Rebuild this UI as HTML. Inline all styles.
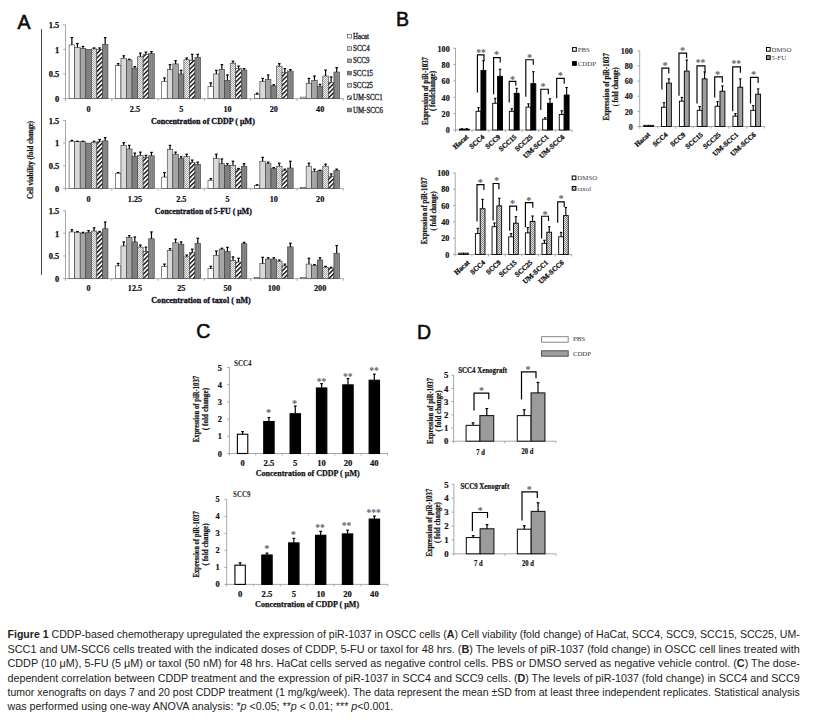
<!DOCTYPE html>
<html><head><meta charset="utf-8"><title>Figure 1</title>
<style>
html,body{margin:0;padding:0;background:#fff;}
body{width:823px;height:720px;position:relative;overflow:hidden;}
</style></head><body>
<svg width="823" height="720" viewBox="0 0 823 720" style="position:absolute;left:0;top:0">
<defs>
<pattern id="chk" patternUnits="userSpaceOnUse" width="2" height="2"><rect width="2" height="2" fill="#f2f2f2"/><rect width="1" height="1" fill="#a8a8a8"/><rect x="1" y="1" width="1" height="1" fill="#a8a8a8"/></pattern>
<pattern id="chk2" patternUnits="userSpaceOnUse" width="2" height="2"><rect width="2" height="2" fill="#e2e2e2"/><rect width="1" height="1" fill="#858585"/><rect x="1" y="1" width="1" height="1" fill="#858585"/></pattern>
<pattern id="diag" patternUnits="userSpaceOnUse" width="3.2" height="3.2" patternTransform="rotate(-45)"><rect width="3.2" height="3.2" fill="#fff"/><rect width="3.2" height="1.4" fill="#111"/></pattern>
<pattern id="vst" patternUnits="userSpaceOnUse" width="2.2" height="4"><rect width="2.2" height="4" fill="#777"/><rect x="1.2" width="0.8" height="4" fill="#9a9a9a"/></pattern>
</defs>
<rect width="823" height="720" fill="#fff"/>
<text x="24.05" y="28.8" font-size="19.5" text-anchor="middle" font-weight="normal" fill="#0a0a0a" font-family='"Liberation Sans", Arial, sans-serif' stroke="#0a0a0a" stroke-width="0.55">A</text>
<text x="402.55" y="26" font-size="19.5" text-anchor="middle" font-weight="normal" fill="#0a0a0a" font-family='"Liberation Sans", Arial, sans-serif' stroke="#0a0a0a" stroke-width="0.55">B</text>
<text x="203.4" y="338.4" font-size="19.5" text-anchor="middle" font-weight="normal" fill="#0a0a0a" font-family='"Liberation Sans", Arial, sans-serif' stroke="#0a0a0a" stroke-width="0.55">C</text>
<text x="424.05" y="339" font-size="19.5" text-anchor="middle" font-weight="normal" fill="#0a0a0a" font-family='"Liberation Sans", Arial, sans-serif' stroke="#0a0a0a" stroke-width="0.55">D</text>
<line x1="41.5" y1="29" x2="41.5" y2="275" stroke="#4a4a4a" stroke-width="1"/>
<text x="32.82" y="160" font-size="7.4" text-anchor="middle" font-weight="bold" fill="#111" font-family='"Liberation Serif", "Times New Roman", serif' textLength="78" lengthAdjust="spacingAndGlyphs" transform="rotate(-90 32.82 160)" stroke="#111" stroke-width="0.22">Cell viability (fold change)</text>
<line x1="65.5" y1="24.5" x2="65.5" y2="98.6" stroke="#a0a0a0" stroke-width="0.9"/>
<line x1="65.5" y1="98.6" x2="343.3" y2="98.6" stroke="#a0a0a0" stroke-width="0.9"/>
<line x1="63.1" y1="98.6" x2="65.5" y2="98.6" stroke="#a0a0a0" stroke-width="0.9"/>
<text x="59.3" y="101.9" font-size="8.4" text-anchor="end" font-weight="bold" fill="#0d0d1a" font-family='"Liberation Serif", "Times New Roman", serif' stroke="#0d0d1a" stroke-width="0.25">0</text>
<line x1="63.1" y1="74" x2="65.5" y2="74" stroke="#a0a0a0" stroke-width="0.9"/>
<text x="59.3" y="77.3" font-size="8.4" text-anchor="end" font-weight="bold" fill="#0d0d1a" font-family='"Liberation Serif", "Times New Roman", serif' stroke="#0d0d1a" stroke-width="0.25">0.5</text>
<line x1="63.1" y1="49.4" x2="65.5" y2="49.4" stroke="#a0a0a0" stroke-width="0.9"/>
<text x="59.3" y="52.7" font-size="8.4" text-anchor="end" font-weight="bold" fill="#0d0d1a" font-family='"Liberation Serif", "Times New Roman", serif' stroke="#0d0d1a" stroke-width="0.25">1</text>
<line x1="63.1" y1="24.8" x2="65.5" y2="24.8" stroke="#a0a0a0" stroke-width="0.9"/>
<text x="59.3" y="28.1" font-size="8.4" text-anchor="end" font-weight="bold" fill="#0d0d1a" font-family='"Liberation Serif", "Times New Roman", serif' stroke="#0d0d1a" stroke-width="0.25">1.5</text>
<line x1="65.5" y1="98.6" x2="65.5" y2="100.8" stroke="#a0a0a0" stroke-width="0.9"/>
<line x1="111.8" y1="98.6" x2="111.8" y2="100.8" stroke="#a0a0a0" stroke-width="0.9"/>
<line x1="158.1" y1="98.6" x2="158.1" y2="100.8" stroke="#a0a0a0" stroke-width="0.9"/>
<line x1="204.4" y1="98.6" x2="204.4" y2="100.8" stroke="#a0a0a0" stroke-width="0.9"/>
<line x1="250.7" y1="98.6" x2="250.7" y2="100.8" stroke="#a0a0a0" stroke-width="0.9"/>
<line x1="297" y1="98.6" x2="297" y2="100.8" stroke="#a0a0a0" stroke-width="0.9"/>
<line x1="343.3" y1="98.6" x2="343.3" y2="100.8" stroke="#a0a0a0" stroke-width="0.9"/>
<rect x="69.1" y="44.97" width="5.55" height="53.63" fill="#ffffff" stroke="#3a3a3a" stroke-width="0.6"/>
<line x1="71.88" y1="44.97" x2="71.88" y2="37.59" stroke="#000" stroke-width="1.2"/>
<line x1="70.58" y1="37.59" x2="73.17" y2="37.59" stroke="#000" stroke-width="1.2"/>
<rect x="74.65" y="47.43" width="5.55" height="51.17" fill="#d9d9d9" stroke="#3a3a3a" stroke-width="0.6"/>
<line x1="77.42" y1="47.43" x2="77.42" y2="43.5" stroke="#000" stroke-width="1.2"/>
<line x1="76.12" y1="43.5" x2="78.72" y2="43.5" stroke="#000" stroke-width="1.2"/>
<rect x="80.2" y="48.42" width="5.55" height="50.18" fill="#a6a6a6" stroke="#3a3a3a" stroke-width="0.6"/>
<line x1="82.97" y1="48.42" x2="82.97" y2="46.45" stroke="#000" stroke-width="1.2"/>
<line x1="81.67" y1="46.45" x2="84.27" y2="46.45" stroke="#000" stroke-width="1.2"/>
<rect x="85.75" y="49.4" width="5.55" height="49.2" fill="#7f7f7f" stroke="#3a3a3a" stroke-width="0.6"/>
<rect x="91.3" y="48.91" width="5.55" height="49.69" fill="url(#chk)" stroke="#3a3a3a" stroke-width="0.6"/>
<line x1="94.08" y1="48.91" x2="94.08" y2="47.92" stroke="#000" stroke-width="1.2"/>
<line x1="92.78" y1="47.92" x2="95.38" y2="47.92" stroke="#000" stroke-width="1.2"/>
<rect x="96.85" y="49.4" width="5.55" height="49.2" fill="url(#diag)" stroke="#3a3a3a" stroke-width="0.6"/>
<line x1="99.62" y1="49.4" x2="99.62" y2="47.92" stroke="#000" stroke-width="1.2"/>
<line x1="98.33" y1="47.92" x2="100.92" y2="47.92" stroke="#000" stroke-width="1.2"/>
<rect x="102.4" y="44.48" width="5.55" height="54.12" fill="url(#vst)" stroke="#3a3a3a" stroke-width="0.6"/>
<line x1="105.17" y1="44.48" x2="105.17" y2="37.59" stroke="#000" stroke-width="1.2"/>
<line x1="103.88" y1="37.59" x2="106.47" y2="37.59" stroke="#000" stroke-width="1.2"/>
<text x="88.65" y="112.4" font-size="8.2" text-anchor="middle" font-weight="bold" fill="#0d0d1a" font-family='"Liberation Serif", "Times New Roman", serif' stroke="#0d0d1a" stroke-width="0.2">0</text>
<rect x="115.4" y="65.64" width="5.55" height="32.96" fill="#ffffff" stroke="#3a3a3a" stroke-width="0.6"/>
<line x1="118.18" y1="65.64" x2="118.18" y2="63.67" stroke="#000" stroke-width="1.2"/>
<line x1="116.88" y1="63.67" x2="119.48" y2="63.67" stroke="#000" stroke-width="1.2"/>
<rect x="120.95" y="58.26" width="5.55" height="40.34" fill="#d9d9d9" stroke="#3a3a3a" stroke-width="0.6"/>
<line x1="123.73" y1="58.26" x2="123.73" y2="55.8" stroke="#000" stroke-width="1.2"/>
<line x1="122.43" y1="55.8" x2="125.03" y2="55.8" stroke="#000" stroke-width="1.2"/>
<rect x="126.5" y="59.98" width="5.55" height="38.62" fill="#a6a6a6" stroke="#3a3a3a" stroke-width="0.6"/>
<line x1="129.28" y1="59.98" x2="129.28" y2="59.24" stroke="#000" stroke-width="1.2"/>
<line x1="127.98" y1="59.24" x2="130.58" y2="59.24" stroke="#000" stroke-width="1.2"/>
<rect x="132.05" y="68.1" width="5.55" height="30.5" fill="#7f7f7f" stroke="#3a3a3a" stroke-width="0.6"/>
<line x1="134.83" y1="68.1" x2="134.83" y2="66.62" stroke="#000" stroke-width="1.2"/>
<line x1="133.53" y1="66.62" x2="136.13" y2="66.62" stroke="#000" stroke-width="1.2"/>
<rect x="137.6" y="56.78" width="5.55" height="41.82" fill="url(#chk)" stroke="#3a3a3a" stroke-width="0.6"/>
<line x1="140.38" y1="56.78" x2="140.38" y2="53.09" stroke="#000" stroke-width="1.2"/>
<line x1="139.07" y1="53.09" x2="141.68" y2="53.09" stroke="#000" stroke-width="1.2"/>
<rect x="143.15" y="54.32" width="5.55" height="44.28" fill="url(#diag)" stroke="#3a3a3a" stroke-width="0.6"/>
<line x1="145.93" y1="54.32" x2="145.93" y2="52.11" stroke="#000" stroke-width="1.2"/>
<line x1="144.62" y1="52.11" x2="147.23" y2="52.11" stroke="#000" stroke-width="1.2"/>
<rect x="148.7" y="53.58" width="5.55" height="45.02" fill="url(#vst)" stroke="#3a3a3a" stroke-width="0.6"/>
<line x1="151.47" y1="53.58" x2="151.47" y2="51.61" stroke="#000" stroke-width="1.2"/>
<line x1="150.17" y1="51.61" x2="152.78" y2="51.61" stroke="#000" stroke-width="1.2"/>
<text x="134.95" y="112.4" font-size="8.2" text-anchor="middle" font-weight="bold" fill="#0d0d1a" font-family='"Liberation Serif", "Times New Roman", serif' stroke="#0d0d1a" stroke-width="0.2">2.5</text>
<rect x="161.7" y="81.38" width="5.55" height="17.22" fill="#ffffff" stroke="#3a3a3a" stroke-width="0.6"/>
<line x1="164.48" y1="81.38" x2="164.48" y2="77.94" stroke="#000" stroke-width="1.2"/>
<line x1="163.18" y1="77.94" x2="165.78" y2="77.94" stroke="#000" stroke-width="1.2"/>
<rect x="167.25" y="69.57" width="5.55" height="29.03" fill="#d9d9d9" stroke="#3a3a3a" stroke-width="0.6"/>
<line x1="170.03" y1="69.57" x2="170.03" y2="64.65" stroke="#000" stroke-width="1.2"/>
<line x1="168.73" y1="64.65" x2="171.33" y2="64.65" stroke="#000" stroke-width="1.2"/>
<rect x="172.8" y="63.91" width="5.55" height="34.69" fill="#a6a6a6" stroke="#3a3a3a" stroke-width="0.6"/>
<line x1="175.58" y1="63.91" x2="175.58" y2="60.72" stroke="#000" stroke-width="1.2"/>
<line x1="174.28" y1="60.72" x2="176.88" y2="60.72" stroke="#000" stroke-width="1.2"/>
<rect x="178.35" y="74" width="5.55" height="24.6" fill="#7f7f7f" stroke="#3a3a3a" stroke-width="0.6"/>
<line x1="181.13" y1="74" x2="181.13" y2="70.31" stroke="#000" stroke-width="1.2"/>
<line x1="179.83" y1="70.31" x2="182.43" y2="70.31" stroke="#000" stroke-width="1.2"/>
<rect x="183.9" y="59.73" width="5.55" height="38.87" fill="url(#chk)" stroke="#3a3a3a" stroke-width="0.6"/>
<line x1="186.68" y1="59.73" x2="186.68" y2="58.01" stroke="#000" stroke-width="1.2"/>
<line x1="185.38" y1="58.01" x2="187.98" y2="58.01" stroke="#000" stroke-width="1.2"/>
<rect x="189.45" y="60.22" width="5.55" height="38.38" fill="url(#diag)" stroke="#3a3a3a" stroke-width="0.6"/>
<line x1="192.23" y1="60.22" x2="192.23" y2="54.32" stroke="#000" stroke-width="1.2"/>
<line x1="190.93" y1="54.32" x2="193.53" y2="54.32" stroke="#000" stroke-width="1.2"/>
<rect x="195" y="57.27" width="5.55" height="41.33" fill="url(#vst)" stroke="#3a3a3a" stroke-width="0.6"/>
<line x1="197.78" y1="57.27" x2="197.78" y2="54.32" stroke="#000" stroke-width="1.2"/>
<line x1="196.47" y1="54.32" x2="199.08" y2="54.32" stroke="#000" stroke-width="1.2"/>
<text x="181.25" y="112.4" font-size="8.2" text-anchor="middle" font-weight="bold" fill="#0d0d1a" font-family='"Liberation Serif", "Times New Roman", serif' stroke="#0d0d1a" stroke-width="0.2">5</text>
<rect x="208" y="86.3" width="5.55" height="12.3" fill="#ffffff" stroke="#3a3a3a" stroke-width="0.6"/>
<line x1="210.78" y1="86.3" x2="210.78" y2="82.86" stroke="#000" stroke-width="1.2"/>
<line x1="209.47" y1="82.86" x2="212.08" y2="82.86" stroke="#000" stroke-width="1.2"/>
<rect x="213.55" y="74" width="5.55" height="24.6" fill="#d9d9d9" stroke="#3a3a3a" stroke-width="0.6"/>
<line x1="216.33" y1="74" x2="216.33" y2="70.31" stroke="#000" stroke-width="1.2"/>
<line x1="215.03" y1="70.31" x2="217.63" y2="70.31" stroke="#000" stroke-width="1.2"/>
<rect x="219.1" y="69.57" width="5.55" height="29.03" fill="#a6a6a6" stroke="#3a3a3a" stroke-width="0.6"/>
<line x1="221.88" y1="69.57" x2="221.88" y2="64.65" stroke="#000" stroke-width="1.2"/>
<line x1="220.57" y1="64.65" x2="223.18" y2="64.65" stroke="#000" stroke-width="1.2"/>
<rect x="224.65" y="80.4" width="5.55" height="18.2" fill="#7f7f7f" stroke="#3a3a3a" stroke-width="0.6"/>
<line x1="227.43" y1="80.4" x2="227.43" y2="74.98" stroke="#000" stroke-width="1.2"/>
<line x1="226.12" y1="74.98" x2="228.73" y2="74.98" stroke="#000" stroke-width="1.2"/>
<rect x="230.2" y="63.18" width="5.55" height="35.42" fill="url(#chk)" stroke="#3a3a3a" stroke-width="0.6"/>
<line x1="232.97" y1="63.18" x2="232.97" y2="61.21" stroke="#000" stroke-width="1.2"/>
<line x1="231.67" y1="61.21" x2="234.28" y2="61.21" stroke="#000" stroke-width="1.2"/>
<rect x="235.75" y="68.59" width="5.55" height="30.01" fill="url(#diag)" stroke="#3a3a3a" stroke-width="0.6"/>
<line x1="238.53" y1="68.59" x2="238.53" y2="66.13" stroke="#000" stroke-width="1.2"/>
<line x1="237.22" y1="66.13" x2="239.83" y2="66.13" stroke="#000" stroke-width="1.2"/>
<rect x="241.3" y="70.06" width="5.55" height="28.54" fill="url(#vst)" stroke="#3a3a3a" stroke-width="0.6"/>
<line x1="244.08" y1="70.06" x2="244.08" y2="68.59" stroke="#000" stroke-width="1.2"/>
<line x1="242.78" y1="68.59" x2="245.38" y2="68.59" stroke="#000" stroke-width="1.2"/>
<text x="227.55" y="112.4" font-size="8.2" text-anchor="middle" font-weight="bold" fill="#0d0d1a" font-family='"Liberation Serif", "Times New Roman", serif' stroke="#0d0d1a" stroke-width="0.2">10</text>
<rect x="254.3" y="94.66" width="5.55" height="3.94" fill="#ffffff" stroke="#3a3a3a" stroke-width="0.6"/>
<line x1="257.07" y1="94.66" x2="257.07" y2="93.19" stroke="#000" stroke-width="1.2"/>
<line x1="255.77" y1="93.19" x2="258.38" y2="93.19" stroke="#000" stroke-width="1.2"/>
<rect x="259.85" y="81.38" width="5.55" height="17.22" fill="#d9d9d9" stroke="#3a3a3a" stroke-width="0.6"/>
<line x1="262.62" y1="81.38" x2="262.62" y2="78.43" stroke="#000" stroke-width="1.2"/>
<line x1="261.32" y1="78.43" x2="263.93" y2="78.43" stroke="#000" stroke-width="1.2"/>
<rect x="265.4" y="79.41" width="5.55" height="19.19" fill="#a6a6a6" stroke="#3a3a3a" stroke-width="0.6"/>
<line x1="268.18" y1="79.41" x2="268.18" y2="74.98" stroke="#000" stroke-width="1.2"/>
<line x1="266.88" y1="74.98" x2="269.48" y2="74.98" stroke="#000" stroke-width="1.2"/>
<rect x="270.95" y="85.81" width="5.55" height="12.79" fill="#7f7f7f" stroke="#3a3a3a" stroke-width="0.6"/>
<line x1="273.72" y1="85.81" x2="273.72" y2="84.82" stroke="#000" stroke-width="1.2"/>
<line x1="272.42" y1="84.82" x2="275.02" y2="84.82" stroke="#000" stroke-width="1.2"/>
<rect x="276.5" y="66.13" width="5.55" height="32.47" fill="url(#chk)" stroke="#3a3a3a" stroke-width="0.6"/>
<line x1="279.27" y1="66.13" x2="279.27" y2="63.67" stroke="#000" stroke-width="1.2"/>
<line x1="277.97" y1="63.67" x2="280.57" y2="63.67" stroke="#000" stroke-width="1.2"/>
<rect x="282.05" y="72.52" width="5.55" height="26.08" fill="url(#diag)" stroke="#3a3a3a" stroke-width="0.6"/>
<line x1="284.82" y1="72.52" x2="284.82" y2="68.59" stroke="#000" stroke-width="1.2"/>
<line x1="283.52" y1="68.59" x2="286.12" y2="68.59" stroke="#000" stroke-width="1.2"/>
<rect x="287.6" y="71.05" width="5.55" height="27.55" fill="url(#vst)" stroke="#3a3a3a" stroke-width="0.6"/>
<line x1="290.38" y1="71.05" x2="290.38" y2="69.57" stroke="#000" stroke-width="1.2"/>
<line x1="289.07" y1="69.57" x2="291.68" y2="69.57" stroke="#000" stroke-width="1.2"/>
<text x="273.85" y="112.4" font-size="8.2" text-anchor="middle" font-weight="bold" fill="#0d0d1a" font-family='"Liberation Serif", "Times New Roman", serif' stroke="#0d0d1a" stroke-width="0.2">20</text>
<rect x="300.6" y="97.12" width="5.55" height="1.48" fill="#ffffff" stroke="#3a3a3a" stroke-width="0.6"/>
<rect x="306.15" y="83.35" width="5.55" height="15.25" fill="#d9d9d9" stroke="#3a3a3a" stroke-width="0.6"/>
<line x1="308.93" y1="83.35" x2="308.93" y2="78.43" stroke="#000" stroke-width="1.2"/>
<line x1="307.62" y1="78.43" x2="310.23" y2="78.43" stroke="#000" stroke-width="1.2"/>
<rect x="311.7" y="80.4" width="5.55" height="18.2" fill="#a6a6a6" stroke="#3a3a3a" stroke-width="0.6"/>
<line x1="314.48" y1="80.4" x2="314.48" y2="75.97" stroke="#000" stroke-width="1.2"/>
<line x1="313.18" y1="75.97" x2="315.78" y2="75.97" stroke="#000" stroke-width="1.2"/>
<rect x="317.25" y="86.3" width="5.55" height="12.3" fill="#7f7f7f" stroke="#3a3a3a" stroke-width="0.6"/>
<line x1="320.02" y1="86.3" x2="320.02" y2="84.33" stroke="#000" stroke-width="1.2"/>
<line x1="318.72" y1="84.33" x2="321.32" y2="84.33" stroke="#000" stroke-width="1.2"/>
<rect x="322.8" y="75.97" width="5.55" height="22.63" fill="url(#chk)" stroke="#3a3a3a" stroke-width="0.6"/>
<line x1="325.57" y1="75.97" x2="325.57" y2="70.06" stroke="#000" stroke-width="1.2"/>
<line x1="324.27" y1="70.06" x2="326.88" y2="70.06" stroke="#000" stroke-width="1.2"/>
<rect x="328.35" y="82.36" width="5.55" height="16.24" fill="url(#diag)" stroke="#3a3a3a" stroke-width="0.6"/>
<line x1="331.12" y1="82.36" x2="331.12" y2="76.95" stroke="#000" stroke-width="1.2"/>
<line x1="329.82" y1="76.95" x2="332.43" y2="76.95" stroke="#000" stroke-width="1.2"/>
<rect x="333.9" y="72.03" width="5.55" height="26.57" fill="url(#vst)" stroke="#3a3a3a" stroke-width="0.6"/>
<line x1="336.68" y1="72.03" x2="336.68" y2="67.6" stroke="#000" stroke-width="1.2"/>
<line x1="335.38" y1="67.6" x2="337.98" y2="67.6" stroke="#000" stroke-width="1.2"/>
<text x="320.15" y="112.4" font-size="8.2" text-anchor="middle" font-weight="bold" fill="#0d0d1a" font-family='"Liberation Serif", "Times New Roman", serif' stroke="#0d0d1a" stroke-width="0.2">40</text>
<text x="202.9" y="124.4" font-size="8.4" text-anchor="middle" font-weight="bold" fill="#0d0d1a" font-family='"Liberation Serif", "Times New Roman", serif' textLength="104" lengthAdjust="spacingAndGlyphs" stroke="#0d0d1a" stroke-width="0.3">Concentration of CDDP ( μM)</text>
<line x1="65.5" y1="120.15" x2="65.5" y2="188.4" stroke="#a0a0a0" stroke-width="0.9"/>
<line x1="65.5" y1="188.4" x2="343.3" y2="188.4" stroke="#a0a0a0" stroke-width="0.9"/>
<line x1="63.1" y1="188.4" x2="65.5" y2="188.4" stroke="#a0a0a0" stroke-width="0.9"/>
<text x="59.3" y="191.7" font-size="8.4" text-anchor="end" font-weight="bold" fill="#0d0d1a" font-family='"Liberation Serif", "Times New Roman", serif' stroke="#0d0d1a" stroke-width="0.25">0</text>
<line x1="63.1" y1="165.75" x2="65.5" y2="165.75" stroke="#a0a0a0" stroke-width="0.9"/>
<text x="59.3" y="169.05" font-size="8.4" text-anchor="end" font-weight="bold" fill="#0d0d1a" font-family='"Liberation Serif", "Times New Roman", serif' stroke="#0d0d1a" stroke-width="0.25">0.5</text>
<line x1="63.1" y1="143.1" x2="65.5" y2="143.1" stroke="#a0a0a0" stroke-width="0.9"/>
<text x="59.3" y="146.4" font-size="8.4" text-anchor="end" font-weight="bold" fill="#0d0d1a" font-family='"Liberation Serif", "Times New Roman", serif' stroke="#0d0d1a" stroke-width="0.25">1</text>
<line x1="63.1" y1="120.45" x2="65.5" y2="120.45" stroke="#a0a0a0" stroke-width="0.9"/>
<text x="59.3" y="123.75" font-size="8.4" text-anchor="end" font-weight="bold" fill="#0d0d1a" font-family='"Liberation Serif", "Times New Roman", serif' stroke="#0d0d1a" stroke-width="0.25">1.5</text>
<line x1="65.5" y1="188.4" x2="65.5" y2="190.6" stroke="#a0a0a0" stroke-width="0.9"/>
<line x1="111.8" y1="188.4" x2="111.8" y2="190.6" stroke="#a0a0a0" stroke-width="0.9"/>
<line x1="158.1" y1="188.4" x2="158.1" y2="190.6" stroke="#a0a0a0" stroke-width="0.9"/>
<line x1="204.4" y1="188.4" x2="204.4" y2="190.6" stroke="#a0a0a0" stroke-width="0.9"/>
<line x1="250.7" y1="188.4" x2="250.7" y2="190.6" stroke="#a0a0a0" stroke-width="0.9"/>
<line x1="297" y1="188.4" x2="297" y2="190.6" stroke="#a0a0a0" stroke-width="0.9"/>
<line x1="343.3" y1="188.4" x2="343.3" y2="190.6" stroke="#a0a0a0" stroke-width="0.9"/>
<rect x="69.1" y="141.29" width="5.55" height="47.11" fill="#ffffff" stroke="#3a3a3a" stroke-width="0.6"/>
<line x1="71.88" y1="141.29" x2="71.88" y2="140.38" stroke="#000" stroke-width="1.2"/>
<line x1="70.58" y1="140.38" x2="73.17" y2="140.38" stroke="#000" stroke-width="1.2"/>
<rect x="74.65" y="141.74" width="5.55" height="46.66" fill="#d9d9d9" stroke="#3a3a3a" stroke-width="0.6"/>
<line x1="77.42" y1="141.74" x2="77.42" y2="141.29" stroke="#000" stroke-width="1.2"/>
<line x1="76.12" y1="141.29" x2="78.72" y2="141.29" stroke="#000" stroke-width="1.2"/>
<rect x="80.2" y="141.74" width="5.55" height="46.66" fill="#a6a6a6" stroke="#3a3a3a" stroke-width="0.6"/>
<line x1="82.97" y1="141.74" x2="82.97" y2="141.29" stroke="#000" stroke-width="1.2"/>
<line x1="81.67" y1="141.29" x2="84.27" y2="141.29" stroke="#000" stroke-width="1.2"/>
<rect x="85.75" y="143.1" width="5.55" height="45.3" fill="#7f7f7f" stroke="#3a3a3a" stroke-width="0.6"/>
<rect x="91.3" y="142.19" width="5.55" height="46.21" fill="url(#chk)" stroke="#3a3a3a" stroke-width="0.6"/>
<line x1="94.08" y1="142.19" x2="94.08" y2="141.29" stroke="#000" stroke-width="1.2"/>
<line x1="92.78" y1="141.29" x2="95.38" y2="141.29" stroke="#000" stroke-width="1.2"/>
<rect x="96.85" y="141.74" width="5.55" height="46.66" fill="url(#diag)" stroke="#3a3a3a" stroke-width="0.6"/>
<line x1="99.62" y1="141.74" x2="99.62" y2="139.48" stroke="#000" stroke-width="1.2"/>
<line x1="98.33" y1="139.48" x2="100.92" y2="139.48" stroke="#000" stroke-width="1.2"/>
<rect x="102.4" y="140.84" width="5.55" height="47.56" fill="url(#vst)" stroke="#3a3a3a" stroke-width="0.6"/>
<line x1="105.17" y1="140.84" x2="105.17" y2="137.66" stroke="#000" stroke-width="1.2"/>
<line x1="103.88" y1="137.66" x2="106.47" y2="137.66" stroke="#000" stroke-width="1.2"/>
<text x="88.65" y="201.5" font-size="8.2" text-anchor="middle" font-weight="bold" fill="#0d0d1a" font-family='"Liberation Serif", "Times New Roman", serif' stroke="#0d0d1a" stroke-width="0.2">0</text>
<rect x="115.4" y="173.22" width="5.55" height="15.18" fill="#ffffff" stroke="#3a3a3a" stroke-width="0.6"/>
<line x1="118.18" y1="173.22" x2="118.18" y2="172.55" stroke="#000" stroke-width="1.2"/>
<line x1="116.88" y1="172.55" x2="119.48" y2="172.55" stroke="#000" stroke-width="1.2"/>
<rect x="120.95" y="145.37" width="5.55" height="43.03" fill="#d9d9d9" stroke="#3a3a3a" stroke-width="0.6"/>
<line x1="123.73" y1="145.37" x2="123.73" y2="142.65" stroke="#000" stroke-width="1.2"/>
<line x1="122.43" y1="142.65" x2="125.03" y2="142.65" stroke="#000" stroke-width="1.2"/>
<rect x="126.5" y="148.99" width="5.55" height="39.41" fill="#a6a6a6" stroke="#3a3a3a" stroke-width="0.6"/>
<line x1="129.28" y1="148.99" x2="129.28" y2="145.37" stroke="#000" stroke-width="1.2"/>
<line x1="127.98" y1="145.37" x2="130.58" y2="145.37" stroke="#000" stroke-width="1.2"/>
<rect x="132.05" y="156.24" width="5.55" height="32.16" fill="#7f7f7f" stroke="#3a3a3a" stroke-width="0.6"/>
<line x1="134.83" y1="156.24" x2="134.83" y2="153.07" stroke="#000" stroke-width="1.2"/>
<line x1="133.53" y1="153.07" x2="136.13" y2="153.07" stroke="#000" stroke-width="1.2"/>
<rect x="137.6" y="155.33" width="5.55" height="33.07" fill="url(#chk)" stroke="#3a3a3a" stroke-width="0.6"/>
<line x1="140.38" y1="155.33" x2="140.38" y2="152.16" stroke="#000" stroke-width="1.2"/>
<line x1="139.07" y1="152.16" x2="141.68" y2="152.16" stroke="#000" stroke-width="1.2"/>
<rect x="143.15" y="157.6" width="5.55" height="30.8" fill="url(#diag)" stroke="#3a3a3a" stroke-width="0.6"/>
<line x1="145.93" y1="157.6" x2="145.93" y2="155.33" stroke="#000" stroke-width="1.2"/>
<line x1="144.62" y1="155.33" x2="147.23" y2="155.33" stroke="#000" stroke-width="1.2"/>
<rect x="148.7" y="155.78" width="5.55" height="32.62" fill="url(#vst)" stroke="#3a3a3a" stroke-width="0.6"/>
<line x1="151.47" y1="155.78" x2="151.47" y2="152.39" stroke="#000" stroke-width="1.2"/>
<line x1="150.17" y1="152.39" x2="152.78" y2="152.39" stroke="#000" stroke-width="1.2"/>
<text x="134.95" y="201.5" font-size="8.2" text-anchor="middle" font-weight="bold" fill="#0d0d1a" font-family='"Liberation Serif", "Times New Roman", serif' stroke="#0d0d1a" stroke-width="0.2">1.25</text>
<rect x="161.7" y="177.08" width="5.55" height="11.32" fill="#ffffff" stroke="#3a3a3a" stroke-width="0.6"/>
<line x1="164.48" y1="177.08" x2="164.48" y2="172.55" stroke="#000" stroke-width="1.2"/>
<line x1="163.18" y1="172.55" x2="165.78" y2="172.55" stroke="#000" stroke-width="1.2"/>
<rect x="167.25" y="149.44" width="5.55" height="38.96" fill="#d9d9d9" stroke="#3a3a3a" stroke-width="0.6"/>
<line x1="170.03" y1="149.44" x2="170.03" y2="145.37" stroke="#000" stroke-width="1.2"/>
<line x1="168.73" y1="145.37" x2="171.33" y2="145.37" stroke="#000" stroke-width="1.2"/>
<rect x="172.8" y="154.2" width="5.55" height="34.2" fill="#a6a6a6" stroke="#3a3a3a" stroke-width="0.6"/>
<line x1="175.58" y1="154.2" x2="175.58" y2="152.16" stroke="#000" stroke-width="1.2"/>
<line x1="174.28" y1="152.16" x2="176.88" y2="152.16" stroke="#000" stroke-width="1.2"/>
<rect x="178.35" y="158.5" width="5.55" height="29.9" fill="#7f7f7f" stroke="#3a3a3a" stroke-width="0.6"/>
<line x1="181.13" y1="158.5" x2="181.13" y2="156.69" stroke="#000" stroke-width="1.2"/>
<line x1="179.83" y1="156.69" x2="182.43" y2="156.69" stroke="#000" stroke-width="1.2"/>
<rect x="183.9" y="156.69" width="5.55" height="31.71" fill="url(#chk)" stroke="#3a3a3a" stroke-width="0.6"/>
<line x1="186.68" y1="156.69" x2="186.68" y2="154.2" stroke="#000" stroke-width="1.2"/>
<line x1="185.38" y1="154.2" x2="187.98" y2="154.2" stroke="#000" stroke-width="1.2"/>
<rect x="189.45" y="162.58" width="5.55" height="25.82" fill="url(#diag)" stroke="#3a3a3a" stroke-width="0.6"/>
<line x1="192.23" y1="162.58" x2="192.23" y2="160.09" stroke="#000" stroke-width="1.2"/>
<line x1="190.93" y1="160.09" x2="193.53" y2="160.09" stroke="#000" stroke-width="1.2"/>
<rect x="195" y="164.39" width="5.55" height="24.01" fill="url(#vst)" stroke="#3a3a3a" stroke-width="0.6"/>
<line x1="197.78" y1="164.39" x2="197.78" y2="162.13" stroke="#000" stroke-width="1.2"/>
<line x1="196.47" y1="162.13" x2="199.08" y2="162.13" stroke="#000" stroke-width="1.2"/>
<text x="181.25" y="201.5" font-size="8.2" text-anchor="middle" font-weight="bold" fill="#0d0d1a" font-family='"Liberation Serif", "Times New Roman", serif' stroke="#0d0d1a" stroke-width="0.2">2.5</text>
<rect x="208" y="180.25" width="5.55" height="8.15" fill="#ffffff" stroke="#3a3a3a" stroke-width="0.6"/>
<line x1="210.78" y1="180.25" x2="210.78" y2="178.66" stroke="#000" stroke-width="1.2"/>
<line x1="209.47" y1="178.66" x2="212.08" y2="178.66" stroke="#000" stroke-width="1.2"/>
<rect x="213.55" y="158.28" width="5.55" height="30.12" fill="#d9d9d9" stroke="#3a3a3a" stroke-width="0.6"/>
<line x1="216.33" y1="158.28" x2="216.33" y2="154.2" stroke="#000" stroke-width="1.2"/>
<line x1="215.03" y1="154.2" x2="217.63" y2="154.2" stroke="#000" stroke-width="1.2"/>
<rect x="219.1" y="163.71" width="5.55" height="24.69" fill="#a6a6a6" stroke="#3a3a3a" stroke-width="0.6"/>
<line x1="221.88" y1="163.71" x2="221.88" y2="158.96" stroke="#000" stroke-width="1.2"/>
<line x1="220.57" y1="158.96" x2="223.18" y2="158.96" stroke="#000" stroke-width="1.2"/>
<rect x="224.65" y="165.3" width="5.55" height="23.1" fill="#7f7f7f" stroke="#3a3a3a" stroke-width="0.6"/>
<line x1="227.43" y1="165.3" x2="227.43" y2="163.71" stroke="#000" stroke-width="1.2"/>
<line x1="226.12" y1="163.71" x2="228.73" y2="163.71" stroke="#000" stroke-width="1.2"/>
<rect x="230.2" y="165.3" width="5.55" height="23.1" fill="url(#chk)" stroke="#3a3a3a" stroke-width="0.6"/>
<line x1="232.97" y1="165.3" x2="232.97" y2="161.22" stroke="#000" stroke-width="1.2"/>
<line x1="231.67" y1="161.22" x2="234.28" y2="161.22" stroke="#000" stroke-width="1.2"/>
<rect x="235.75" y="169.6" width="5.55" height="18.8" fill="url(#diag)" stroke="#3a3a3a" stroke-width="0.6"/>
<line x1="238.53" y1="169.6" x2="238.53" y2="168.47" stroke="#000" stroke-width="1.2"/>
<line x1="237.22" y1="168.47" x2="239.83" y2="168.47" stroke="#000" stroke-width="1.2"/>
<rect x="241.3" y="166.2" width="5.55" height="22.2" fill="url(#vst)" stroke="#3a3a3a" stroke-width="0.6"/>
<line x1="244.08" y1="166.2" x2="244.08" y2="163.71" stroke="#000" stroke-width="1.2"/>
<line x1="242.78" y1="163.71" x2="245.38" y2="163.71" stroke="#000" stroke-width="1.2"/>
<text x="227.55" y="201.5" font-size="8.2" text-anchor="middle" font-weight="bold" fill="#0d0d1a" font-family='"Liberation Serif", "Times New Roman", serif' stroke="#0d0d1a" stroke-width="0.2">5</text>
<rect x="254.3" y="185.68" width="5.55" height="2.72" fill="#ffffff" stroke="#3a3a3a" stroke-width="0.6"/>
<line x1="257.07" y1="185.68" x2="257.07" y2="184.78" stroke="#000" stroke-width="1.2"/>
<line x1="255.77" y1="184.78" x2="258.38" y2="184.78" stroke="#000" stroke-width="1.2"/>
<rect x="259.85" y="161.22" width="5.55" height="27.18" fill="#d9d9d9" stroke="#3a3a3a" stroke-width="0.6"/>
<line x1="262.62" y1="161.22" x2="262.62" y2="157.37" stroke="#000" stroke-width="1.2"/>
<line x1="261.32" y1="157.37" x2="263.93" y2="157.37" stroke="#000" stroke-width="1.2"/>
<rect x="265.4" y="163.71" width="5.55" height="24.69" fill="#a6a6a6" stroke="#3a3a3a" stroke-width="0.6"/>
<line x1="268.18" y1="163.71" x2="268.18" y2="162.13" stroke="#000" stroke-width="1.2"/>
<line x1="266.88" y1="162.13" x2="269.48" y2="162.13" stroke="#000" stroke-width="1.2"/>
<rect x="270.95" y="168.47" width="5.55" height="19.93" fill="#7f7f7f" stroke="#3a3a3a" stroke-width="0.6"/>
<line x1="273.72" y1="168.47" x2="273.72" y2="167.56" stroke="#000" stroke-width="1.2"/>
<line x1="272.42" y1="167.56" x2="275.02" y2="167.56" stroke="#000" stroke-width="1.2"/>
<rect x="276.5" y="166.2" width="5.55" height="22.2" fill="url(#chk)" stroke="#3a3a3a" stroke-width="0.6"/>
<line x1="279.27" y1="166.2" x2="279.27" y2="163.21" stroke="#000" stroke-width="1.2"/>
<line x1="277.97" y1="163.21" x2="280.57" y2="163.21" stroke="#000" stroke-width="1.2"/>
<rect x="282.05" y="170.73" width="5.55" height="17.67" fill="url(#diag)" stroke="#3a3a3a" stroke-width="0.6"/>
<line x1="284.82" y1="170.73" x2="284.82" y2="169.15" stroke="#000" stroke-width="1.2"/>
<line x1="283.52" y1="169.15" x2="286.12" y2="169.15" stroke="#000" stroke-width="1.2"/>
<rect x="287.6" y="168.02" width="5.55" height="20.38" fill="url(#vst)" stroke="#3a3a3a" stroke-width="0.6"/>
<line x1="290.38" y1="168.02" x2="290.38" y2="161.22" stroke="#000" stroke-width="1.2"/>
<line x1="289.07" y1="161.22" x2="291.68" y2="161.22" stroke="#000" stroke-width="1.2"/>
<text x="273.85" y="201.5" font-size="8.2" text-anchor="middle" font-weight="bold" fill="#0d0d1a" font-family='"Liberation Serif", "Times New Roman", serif' stroke="#0d0d1a" stroke-width="0.2">10</text>
<rect x="300.6" y="187.49" width="5.55" height="0.91" fill="#ffffff" stroke="#3a3a3a" stroke-width="0.6"/>
<rect x="306.15" y="166.2" width="5.55" height="22.2" fill="#d9d9d9" stroke="#3a3a3a" stroke-width="0.6"/>
<line x1="308.93" y1="166.2" x2="308.93" y2="163.21" stroke="#000" stroke-width="1.2"/>
<line x1="307.62" y1="163.21" x2="310.23" y2="163.21" stroke="#000" stroke-width="1.2"/>
<rect x="311.7" y="171.64" width="5.55" height="16.76" fill="#a6a6a6" stroke="#3a3a3a" stroke-width="0.6"/>
<line x1="314.48" y1="171.64" x2="314.48" y2="169.15" stroke="#000" stroke-width="1.2"/>
<line x1="313.18" y1="169.15" x2="315.78" y2="169.15" stroke="#000" stroke-width="1.2"/>
<rect x="317.25" y="170.73" width="5.55" height="17.67" fill="#7f7f7f" stroke="#3a3a3a" stroke-width="0.6"/>
<line x1="320.02" y1="170.73" x2="320.02" y2="170.28" stroke="#000" stroke-width="1.2"/>
<line x1="318.72" y1="170.28" x2="321.32" y2="170.28" stroke="#000" stroke-width="1.2"/>
<rect x="322.8" y="166.2" width="5.55" height="22.2" fill="url(#chk)" stroke="#3a3a3a" stroke-width="0.6"/>
<line x1="325.57" y1="166.2" x2="325.57" y2="164.16" stroke="#000" stroke-width="1.2"/>
<line x1="324.27" y1="164.16" x2="326.88" y2="164.16" stroke="#000" stroke-width="1.2"/>
<rect x="328.35" y="176.17" width="5.55" height="12.23" fill="url(#diag)" stroke="#3a3a3a" stroke-width="0.6"/>
<line x1="331.12" y1="176.17" x2="331.12" y2="173.9" stroke="#000" stroke-width="1.2"/>
<line x1="329.82" y1="173.9" x2="332.43" y2="173.9" stroke="#000" stroke-width="1.2"/>
<rect x="333.9" y="170.28" width="5.55" height="18.12" fill="url(#vst)" stroke="#3a3a3a" stroke-width="0.6"/>
<line x1="336.68" y1="170.28" x2="336.68" y2="169.15" stroke="#000" stroke-width="1.2"/>
<line x1="335.38" y1="169.15" x2="337.98" y2="169.15" stroke="#000" stroke-width="1.2"/>
<text x="320.15" y="201.5" font-size="8.2" text-anchor="middle" font-weight="bold" fill="#0d0d1a" font-family='"Liberation Serif", "Times New Roman", serif' stroke="#0d0d1a" stroke-width="0.2">20</text>
<text x="203.3" y="213.5" font-size="8.4" text-anchor="middle" font-weight="bold" fill="#0d0d1a" font-family='"Liberation Serif", "Times New Roman", serif' textLength="97" lengthAdjust="spacingAndGlyphs" stroke="#0d0d1a" stroke-width="0.3">Concentration of 5-FU ( μM)</text>
<line x1="65.5" y1="210.35" x2="65.5" y2="278.6" stroke="#a0a0a0" stroke-width="0.9"/>
<line x1="65.5" y1="278.6" x2="343.3" y2="278.6" stroke="#a0a0a0" stroke-width="0.9"/>
<line x1="63.1" y1="278.6" x2="65.5" y2="278.6" stroke="#a0a0a0" stroke-width="0.9"/>
<text x="59.3" y="281.9" font-size="8.4" text-anchor="end" font-weight="bold" fill="#0d0d1a" font-family='"Liberation Serif", "Times New Roman", serif' stroke="#0d0d1a" stroke-width="0.25">0</text>
<line x1="63.1" y1="255.95" x2="65.5" y2="255.95" stroke="#a0a0a0" stroke-width="0.9"/>
<text x="59.3" y="259.25" font-size="8.4" text-anchor="end" font-weight="bold" fill="#0d0d1a" font-family='"Liberation Serif", "Times New Roman", serif' stroke="#0d0d1a" stroke-width="0.25">0.5</text>
<line x1="63.1" y1="233.3" x2="65.5" y2="233.3" stroke="#a0a0a0" stroke-width="0.9"/>
<text x="59.3" y="236.6" font-size="8.4" text-anchor="end" font-weight="bold" fill="#0d0d1a" font-family='"Liberation Serif", "Times New Roman", serif' stroke="#0d0d1a" stroke-width="0.25">1</text>
<line x1="63.1" y1="210.65" x2="65.5" y2="210.65" stroke="#a0a0a0" stroke-width="0.9"/>
<text x="59.3" y="213.95" font-size="8.4" text-anchor="end" font-weight="bold" fill="#0d0d1a" font-family='"Liberation Serif", "Times New Roman", serif' stroke="#0d0d1a" stroke-width="0.25">1.5</text>
<line x1="65.5" y1="278.6" x2="65.5" y2="280.8" stroke="#a0a0a0" stroke-width="0.9"/>
<line x1="111.8" y1="278.6" x2="111.8" y2="280.8" stroke="#a0a0a0" stroke-width="0.9"/>
<line x1="158.1" y1="278.6" x2="158.1" y2="280.8" stroke="#a0a0a0" stroke-width="0.9"/>
<line x1="204.4" y1="278.6" x2="204.4" y2="280.8" stroke="#a0a0a0" stroke-width="0.9"/>
<line x1="250.7" y1="278.6" x2="250.7" y2="280.8" stroke="#a0a0a0" stroke-width="0.9"/>
<line x1="297" y1="278.6" x2="297" y2="280.8" stroke="#a0a0a0" stroke-width="0.9"/>
<line x1="343.3" y1="278.6" x2="343.3" y2="280.8" stroke="#a0a0a0" stroke-width="0.9"/>
<rect x="69.1" y="231.94" width="5.55" height="46.66" fill="#ffffff" stroke="#3a3a3a" stroke-width="0.6"/>
<line x1="71.88" y1="231.94" x2="71.88" y2="229.68" stroke="#000" stroke-width="1.2"/>
<line x1="70.58" y1="229.68" x2="73.17" y2="229.68" stroke="#000" stroke-width="1.2"/>
<rect x="74.65" y="232.39" width="5.55" height="46.21" fill="#d9d9d9" stroke="#3a3a3a" stroke-width="0.6"/>
<line x1="77.42" y1="232.39" x2="77.42" y2="231.49" stroke="#000" stroke-width="1.2"/>
<line x1="76.12" y1="231.49" x2="78.72" y2="231.49" stroke="#000" stroke-width="1.2"/>
<rect x="80.2" y="233.3" width="5.55" height="45.3" fill="#a6a6a6" stroke="#3a3a3a" stroke-width="0.6"/>
<line x1="82.97" y1="233.3" x2="82.97" y2="232.39" stroke="#000" stroke-width="1.2"/>
<line x1="81.67" y1="232.39" x2="84.27" y2="232.39" stroke="#000" stroke-width="1.2"/>
<rect x="85.75" y="232.39" width="5.55" height="46.21" fill="#7f7f7f" stroke="#3a3a3a" stroke-width="0.6"/>
<line x1="88.53" y1="232.39" x2="88.53" y2="230.58" stroke="#000" stroke-width="1.2"/>
<line x1="87.23" y1="230.58" x2="89.83" y2="230.58" stroke="#000" stroke-width="1.2"/>
<rect x="91.3" y="231.04" width="5.55" height="47.56" fill="url(#chk)" stroke="#3a3a3a" stroke-width="0.6"/>
<line x1="94.08" y1="231.04" x2="94.08" y2="227.86" stroke="#000" stroke-width="1.2"/>
<line x1="92.78" y1="227.86" x2="95.38" y2="227.86" stroke="#000" stroke-width="1.2"/>
<rect x="96.85" y="232.39" width="5.55" height="46.21" fill="url(#diag)" stroke="#3a3a3a" stroke-width="0.6"/>
<line x1="99.62" y1="232.39" x2="99.62" y2="231.49" stroke="#000" stroke-width="1.2"/>
<line x1="98.33" y1="231.49" x2="100.92" y2="231.49" stroke="#000" stroke-width="1.2"/>
<rect x="102.4" y="228.77" width="5.55" height="49.83" fill="url(#vst)" stroke="#3a3a3a" stroke-width="0.6"/>
<line x1="105.17" y1="228.77" x2="105.17" y2="221.98" stroke="#000" stroke-width="1.2"/>
<line x1="103.88" y1="221.98" x2="106.47" y2="221.98" stroke="#000" stroke-width="1.2"/>
<text x="88.65" y="291.3" font-size="8.2" text-anchor="middle" font-weight="bold" fill="#0d0d1a" font-family='"Liberation Serif", "Times New Roman", serif' stroke="#0d0d1a" stroke-width="0.2">0</text>
<rect x="115.4" y="265.92" width="5.55" height="12.68" fill="#ffffff" stroke="#3a3a3a" stroke-width="0.6"/>
<line x1="118.18" y1="265.92" x2="118.18" y2="263.42" stroke="#000" stroke-width="1.2"/>
<line x1="116.88" y1="263.42" x2="119.48" y2="263.42" stroke="#000" stroke-width="1.2"/>
<rect x="120.95" y="245.98" width="5.55" height="32.62" fill="#d9d9d9" stroke="#3a3a3a" stroke-width="0.6"/>
<line x1="123.73" y1="245.98" x2="123.73" y2="241.91" stroke="#000" stroke-width="1.2"/>
<line x1="122.43" y1="241.91" x2="125.03" y2="241.91" stroke="#000" stroke-width="1.2"/>
<rect x="126.5" y="237.38" width="5.55" height="41.22" fill="#a6a6a6" stroke="#3a3a3a" stroke-width="0.6"/>
<line x1="129.28" y1="237.38" x2="129.28" y2="235.57" stroke="#000" stroke-width="1.2"/>
<line x1="127.98" y1="235.57" x2="130.58" y2="235.57" stroke="#000" stroke-width="1.2"/>
<rect x="132.05" y="241.91" width="5.55" height="36.69" fill="#7f7f7f" stroke="#3a3a3a" stroke-width="0.6"/>
<line x1="134.83" y1="241.91" x2="134.83" y2="236.92" stroke="#000" stroke-width="1.2"/>
<line x1="133.53" y1="236.92" x2="136.13" y2="236.92" stroke="#000" stroke-width="1.2"/>
<rect x="137.6" y="247.12" width="5.55" height="31.48" fill="url(#chk)" stroke="#3a3a3a" stroke-width="0.6"/>
<line x1="140.38" y1="247.12" x2="140.38" y2="245.08" stroke="#000" stroke-width="1.2"/>
<line x1="139.07" y1="245.08" x2="141.68" y2="245.08" stroke="#000" stroke-width="1.2"/>
<rect x="143.15" y="251.42" width="5.55" height="27.18" fill="url(#diag)" stroke="#3a3a3a" stroke-width="0.6"/>
<line x1="145.93" y1="251.42" x2="145.93" y2="247.12" stroke="#000" stroke-width="1.2"/>
<line x1="144.62" y1="247.12" x2="147.23" y2="247.12" stroke="#000" stroke-width="1.2"/>
<rect x="148.7" y="238.74" width="5.55" height="39.86" fill="url(#vst)" stroke="#3a3a3a" stroke-width="0.6"/>
<line x1="151.47" y1="238.74" x2="151.47" y2="231.94" stroke="#000" stroke-width="1.2"/>
<line x1="150.17" y1="231.94" x2="152.78" y2="231.94" stroke="#000" stroke-width="1.2"/>
<text x="134.95" y="291.3" font-size="8.2" text-anchor="middle" font-weight="bold" fill="#0d0d1a" font-family='"Liberation Serif", "Times New Roman", serif' stroke="#0d0d1a" stroke-width="0.2">12.5</text>
<rect x="161.7" y="266.37" width="5.55" height="12.23" fill="#ffffff" stroke="#3a3a3a" stroke-width="0.6"/>
<line x1="164.48" y1="266.37" x2="164.48" y2="264.1" stroke="#000" stroke-width="1.2"/>
<line x1="163.18" y1="264.1" x2="165.78" y2="264.1" stroke="#000" stroke-width="1.2"/>
<rect x="167.25" y="250.51" width="5.55" height="28.09" fill="#d9d9d9" stroke="#3a3a3a" stroke-width="0.6"/>
<line x1="170.03" y1="250.51" x2="170.03" y2="248.7" stroke="#000" stroke-width="1.2"/>
<line x1="168.73" y1="248.7" x2="171.33" y2="248.7" stroke="#000" stroke-width="1.2"/>
<rect x="172.8" y="242.81" width="5.55" height="35.79" fill="#a6a6a6" stroke="#3a3a3a" stroke-width="0.6"/>
<line x1="175.58" y1="242.81" x2="175.58" y2="239.19" stroke="#000" stroke-width="1.2"/>
<line x1="174.28" y1="239.19" x2="176.88" y2="239.19" stroke="#000" stroke-width="1.2"/>
<rect x="178.35" y="244.17" width="5.55" height="34.43" fill="#7f7f7f" stroke="#3a3a3a" stroke-width="0.6"/>
<line x1="181.13" y1="244.17" x2="181.13" y2="241.91" stroke="#000" stroke-width="1.2"/>
<line x1="179.83" y1="241.91" x2="182.43" y2="241.91" stroke="#000" stroke-width="1.2"/>
<rect x="183.9" y="256.86" width="5.55" height="21.74" fill="url(#chk)" stroke="#3a3a3a" stroke-width="0.6"/>
<line x1="186.68" y1="256.86" x2="186.68" y2="255.04" stroke="#000" stroke-width="1.2"/>
<line x1="185.38" y1="255.04" x2="187.98" y2="255.04" stroke="#000" stroke-width="1.2"/>
<rect x="189.45" y="252.33" width="5.55" height="26.27" fill="url(#diag)" stroke="#3a3a3a" stroke-width="0.6"/>
<line x1="192.23" y1="252.33" x2="192.23" y2="249.16" stroke="#000" stroke-width="1.2"/>
<line x1="190.93" y1="249.16" x2="193.53" y2="249.16" stroke="#000" stroke-width="1.2"/>
<rect x="195" y="243.27" width="5.55" height="35.33" fill="url(#vst)" stroke="#3a3a3a" stroke-width="0.6"/>
<line x1="197.78" y1="243.27" x2="197.78" y2="238.28" stroke="#000" stroke-width="1.2"/>
<line x1="196.47" y1="238.28" x2="199.08" y2="238.28" stroke="#000" stroke-width="1.2"/>
<text x="181.25" y="291.3" font-size="8.2" text-anchor="middle" font-weight="bold" fill="#0d0d1a" font-family='"Liberation Serif", "Times New Roman", serif' stroke="#0d0d1a" stroke-width="0.2">25</text>
<rect x="208" y="268.63" width="5.55" height="9.97" fill="#ffffff" stroke="#3a3a3a" stroke-width="0.6"/>
<line x1="210.78" y1="268.63" x2="210.78" y2="266.37" stroke="#000" stroke-width="1.2"/>
<line x1="209.47" y1="266.37" x2="212.08" y2="266.37" stroke="#000" stroke-width="1.2"/>
<rect x="213.55" y="255.27" width="5.55" height="23.33" fill="#d9d9d9" stroke="#3a3a3a" stroke-width="0.6"/>
<line x1="216.33" y1="255.27" x2="216.33" y2="250.97" stroke="#000" stroke-width="1.2"/>
<line x1="215.03" y1="250.97" x2="217.63" y2="250.97" stroke="#000" stroke-width="1.2"/>
<rect x="219.1" y="249.16" width="5.55" height="29.45" fill="#a6a6a6" stroke="#3a3a3a" stroke-width="0.6"/>
<line x1="221.88" y1="249.16" x2="221.88" y2="248.25" stroke="#000" stroke-width="1.2"/>
<line x1="220.57" y1="248.25" x2="223.18" y2="248.25" stroke="#000" stroke-width="1.2"/>
<rect x="224.65" y="251.42" width="5.55" height="27.18" fill="#7f7f7f" stroke="#3a3a3a" stroke-width="0.6"/>
<line x1="227.43" y1="251.42" x2="227.43" y2="247.34" stroke="#000" stroke-width="1.2"/>
<line x1="226.12" y1="247.34" x2="228.73" y2="247.34" stroke="#000" stroke-width="1.2"/>
<rect x="230.2" y="260.48" width="5.55" height="18.12" fill="url(#chk)" stroke="#3a3a3a" stroke-width="0.6"/>
<line x1="232.97" y1="260.48" x2="232.97" y2="256.86" stroke="#000" stroke-width="1.2"/>
<line x1="231.67" y1="256.86" x2="234.28" y2="256.86" stroke="#000" stroke-width="1.2"/>
<rect x="235.75" y="262.07" width="5.55" height="16.53" fill="url(#diag)" stroke="#3a3a3a" stroke-width="0.6"/>
<line x1="238.53" y1="262.07" x2="238.53" y2="258.22" stroke="#000" stroke-width="1.2"/>
<line x1="237.22" y1="258.22" x2="239.83" y2="258.22" stroke="#000" stroke-width="1.2"/>
<rect x="241.3" y="243.72" width="5.55" height="34.88" fill="url(#vst)" stroke="#3a3a3a" stroke-width="0.6"/>
<line x1="244.08" y1="243.72" x2="244.08" y2="242.36" stroke="#000" stroke-width="1.2"/>
<line x1="242.78" y1="242.36" x2="245.38" y2="242.36" stroke="#000" stroke-width="1.2"/>
<text x="227.55" y="291.3" font-size="8.2" text-anchor="middle" font-weight="bold" fill="#0d0d1a" font-family='"Liberation Serif", "Times New Roman", serif' stroke="#0d0d1a" stroke-width="0.2">50</text>
<rect x="254.3" y="277.69" width="5.55" height="0.91" fill="#ffffff" stroke="#3a3a3a" stroke-width="0.6"/>
<rect x="259.85" y="263.65" width="5.55" height="14.95" fill="#d9d9d9" stroke="#3a3a3a" stroke-width="0.6"/>
<line x1="262.62" y1="263.65" x2="262.62" y2="257.31" stroke="#000" stroke-width="1.2"/>
<line x1="261.32" y1="257.31" x2="263.93" y2="257.31" stroke="#000" stroke-width="1.2"/>
<rect x="265.4" y="259.12" width="5.55" height="19.48" fill="#a6a6a6" stroke="#3a3a3a" stroke-width="0.6"/>
<line x1="268.18" y1="259.12" x2="268.18" y2="257.76" stroke="#000" stroke-width="1.2"/>
<line x1="266.88" y1="257.76" x2="269.48" y2="257.76" stroke="#000" stroke-width="1.2"/>
<rect x="270.95" y="259.12" width="5.55" height="19.48" fill="#7f7f7f" stroke="#3a3a3a" stroke-width="0.6"/>
<line x1="273.72" y1="259.12" x2="273.72" y2="257.76" stroke="#000" stroke-width="1.2"/>
<line x1="272.42" y1="257.76" x2="275.02" y2="257.76" stroke="#000" stroke-width="1.2"/>
<rect x="276.5" y="261.16" width="5.55" height="17.44" fill="url(#chk)" stroke="#3a3a3a" stroke-width="0.6"/>
<line x1="279.27" y1="261.16" x2="279.27" y2="260.03" stroke="#000" stroke-width="1.2"/>
<line x1="277.97" y1="260.03" x2="280.57" y2="260.03" stroke="#000" stroke-width="1.2"/>
<rect x="282.05" y="265.92" width="5.55" height="12.68" fill="url(#diag)" stroke="#3a3a3a" stroke-width="0.6"/>
<line x1="284.82" y1="265.92" x2="284.82" y2="264.1" stroke="#000" stroke-width="1.2"/>
<line x1="283.52" y1="264.1" x2="286.12" y2="264.1" stroke="#000" stroke-width="1.2"/>
<rect x="287.6" y="246.89" width="5.55" height="31.71" fill="url(#vst)" stroke="#3a3a3a" stroke-width="0.6"/>
<line x1="290.38" y1="246.89" x2="290.38" y2="243.27" stroke="#000" stroke-width="1.2"/>
<line x1="289.07" y1="243.27" x2="291.68" y2="243.27" stroke="#000" stroke-width="1.2"/>
<text x="273.85" y="291.3" font-size="8.2" text-anchor="middle" font-weight="bold" fill="#0d0d1a" font-family='"Liberation Serif", "Times New Roman", serif' stroke="#0d0d1a" stroke-width="0.2">100</text>
<rect x="300.6" y="277.69" width="5.55" height="0.91" fill="#ffffff" stroke="#3a3a3a" stroke-width="0.6"/>
<rect x="306.15" y="264.1" width="5.55" height="14.5" fill="#d9d9d9" stroke="#3a3a3a" stroke-width="0.6"/>
<line x1="308.93" y1="264.1" x2="308.93" y2="258.22" stroke="#000" stroke-width="1.2"/>
<line x1="307.62" y1="258.22" x2="310.23" y2="258.22" stroke="#000" stroke-width="1.2"/>
<rect x="311.7" y="265.46" width="5.55" height="13.14" fill="#a6a6a6" stroke="#3a3a3a" stroke-width="0.6"/>
<line x1="314.48" y1="265.46" x2="314.48" y2="264.56" stroke="#000" stroke-width="1.2"/>
<line x1="313.18" y1="264.56" x2="315.78" y2="264.56" stroke="#000" stroke-width="1.2"/>
<rect x="317.25" y="260.03" width="5.55" height="18.57" fill="#7f7f7f" stroke="#3a3a3a" stroke-width="0.6"/>
<line x1="320.02" y1="260.03" x2="320.02" y2="257.76" stroke="#000" stroke-width="1.2"/>
<line x1="318.72" y1="257.76" x2="321.32" y2="257.76" stroke="#000" stroke-width="1.2"/>
<rect x="322.8" y="267.28" width="5.55" height="11.32" fill="url(#chk)" stroke="#3a3a3a" stroke-width="0.6"/>
<line x1="325.57" y1="267.28" x2="325.57" y2="266.37" stroke="#000" stroke-width="1.2"/>
<line x1="324.27" y1="266.37" x2="326.88" y2="266.37" stroke="#000" stroke-width="1.2"/>
<rect x="328.35" y="268.18" width="5.55" height="10.42" fill="url(#diag)" stroke="#3a3a3a" stroke-width="0.6"/>
<line x1="331.12" y1="268.18" x2="331.12" y2="267.28" stroke="#000" stroke-width="1.2"/>
<line x1="329.82" y1="267.28" x2="332.43" y2="267.28" stroke="#000" stroke-width="1.2"/>
<rect x="333.9" y="253.23" width="5.55" height="25.37" fill="url(#vst)" stroke="#3a3a3a" stroke-width="0.6"/>
<line x1="336.68" y1="253.23" x2="336.68" y2="245.53" stroke="#000" stroke-width="1.2"/>
<line x1="335.38" y1="245.53" x2="337.98" y2="245.53" stroke="#000" stroke-width="1.2"/>
<text x="320.15" y="291.3" font-size="8.2" text-anchor="middle" font-weight="bold" fill="#0d0d1a" font-family='"Liberation Serif", "Times New Roman", serif' stroke="#0d0d1a" stroke-width="0.2">200</text>
<text x="201" y="303.1" font-size="8.4" text-anchor="middle" font-weight="bold" fill="#0d0d1a" font-family='"Liberation Serif", "Times New Roman", serif' textLength="99.5" lengthAdjust="spacingAndGlyphs" stroke="#0d0d1a" stroke-width="0.3">Concentration of taxol ( nM)</text>
<rect x="347.6" y="34.4" width="3.8" height="3.6" fill="#ffffff" stroke="#555" stroke-width="0.7"/>
<text x="353" y="38.8" font-size="7.4" text-anchor="start" font-weight="normal" fill="#1a1a2a" font-family='"Liberation Serif", "Times New Roman", serif' textLength="16" lengthAdjust="spacingAndGlyphs" stroke="#1a1a2a" stroke-width="0.3">Hacat</text>
<rect x="347.6" y="46.7" width="3.8" height="3.6" fill="#d9d9d9" stroke="#555" stroke-width="0.7"/>
<text x="353" y="51.1" font-size="7.4" text-anchor="start" font-weight="normal" fill="#1a1a2a" font-family='"Liberation Serif", "Times New Roman", serif' textLength="16.7" lengthAdjust="spacingAndGlyphs" stroke="#1a1a2a" stroke-width="0.3">SCC4</text>
<rect x="347.6" y="59" width="3.8" height="3.6" fill="#a6a6a6" stroke="#555" stroke-width="0.7"/>
<text x="353" y="63.4" font-size="7.4" text-anchor="start" font-weight="normal" fill="#1a1a2a" font-family='"Liberation Serif", "Times New Roman", serif' textLength="16.3" lengthAdjust="spacingAndGlyphs" stroke="#1a1a2a" stroke-width="0.3">SCC9</text>
<rect x="347.6" y="71.3" width="3.8" height="3.6" fill="#7f7f7f" stroke="#555" stroke-width="0.7"/>
<text x="353" y="75.7" font-size="7.4" text-anchor="start" font-weight="normal" fill="#1a1a2a" font-family='"Liberation Serif", "Times New Roman", serif' textLength="20.1" lengthAdjust="spacingAndGlyphs" stroke="#1a1a2a" stroke-width="0.3">SCC15</text>
<rect x="347.6" y="83.6" width="3.8" height="3.6" fill="url(#chk)" stroke="#555" stroke-width="0.7"/>
<text x="353" y="88" font-size="7.4" text-anchor="start" font-weight="normal" fill="#1a1a2a" font-family='"Liberation Serif", "Times New Roman", serif' textLength="20.1" lengthAdjust="spacingAndGlyphs" stroke="#1a1a2a" stroke-width="0.3">SCC25</text>
<rect x="347.6" y="95.9" width="3.8" height="3.6" fill="url(#diag)" stroke="#555" stroke-width="0.7"/>
<text x="353" y="100.3" font-size="7.4" text-anchor="start" font-weight="normal" fill="#1a1a2a" font-family='"Liberation Serif", "Times New Roman", serif' textLength="29.6" lengthAdjust="spacingAndGlyphs" stroke="#1a1a2a" stroke-width="0.3">UM-SCC1</text>
<rect x="347.6" y="108.2" width="3.8" height="3.6" fill="url(#vst)" stroke="#555" stroke-width="0.7"/>
<text x="353" y="112.6" font-size="7.4" text-anchor="start" font-weight="normal" fill="#1a1a2a" font-family='"Liberation Serif", "Times New Roman", serif' textLength="29.9" lengthAdjust="spacingAndGlyphs" stroke="#1a1a2a" stroke-width="0.3">UM-SCC6</text>
<line x1="455.5" y1="48" x2="455.5" y2="130" stroke="#a0a0a0" stroke-width="0.9"/>
<line x1="455.5" y1="130" x2="572" y2="130" stroke="#a0a0a0" stroke-width="0.9"/>
<line x1="453.2" y1="130" x2="455.5" y2="130" stroke="#a0a0a0" stroke-width="0.9"/>
<text x="449.7" y="133.2" font-size="8.6" text-anchor="end" font-weight="bold" fill="#111" font-family='"Liberation Serif", "Times New Roman", serif' textLength="4.05" lengthAdjust="spacingAndGlyphs" stroke="#111" stroke-width="0.2">0</text>
<line x1="453.2" y1="113.66" x2="455.5" y2="113.66" stroke="#a0a0a0" stroke-width="0.9"/>
<text x="449.7" y="116.86" font-size="8.6" text-anchor="end" font-weight="bold" fill="#111" font-family='"Liberation Serif", "Times New Roman", serif' textLength="8.1" lengthAdjust="spacingAndGlyphs" stroke="#111" stroke-width="0.2">20</text>
<line x1="453.2" y1="97.32" x2="455.5" y2="97.32" stroke="#a0a0a0" stroke-width="0.9"/>
<text x="449.7" y="100.52" font-size="8.6" text-anchor="end" font-weight="bold" fill="#111" font-family='"Liberation Serif", "Times New Roman", serif' textLength="8.1" lengthAdjust="spacingAndGlyphs" stroke="#111" stroke-width="0.2">40</text>
<line x1="453.2" y1="80.98" x2="455.5" y2="80.98" stroke="#a0a0a0" stroke-width="0.9"/>
<text x="449.7" y="84.18" font-size="8.6" text-anchor="end" font-weight="bold" fill="#111" font-family='"Liberation Serif", "Times New Roman", serif' textLength="8.1" lengthAdjust="spacingAndGlyphs" stroke="#111" stroke-width="0.2">60</text>
<line x1="453.2" y1="64.64" x2="455.5" y2="64.64" stroke="#a0a0a0" stroke-width="0.9"/>
<text x="449.7" y="67.84" font-size="8.6" text-anchor="end" font-weight="bold" fill="#111" font-family='"Liberation Serif", "Times New Roman", serif' textLength="8.1" lengthAdjust="spacingAndGlyphs" stroke="#111" stroke-width="0.2">80</text>
<line x1="453.2" y1="48.3" x2="455.5" y2="48.3" stroke="#a0a0a0" stroke-width="0.9"/>
<text x="449.7" y="51.5" font-size="8.6" text-anchor="end" font-weight="bold" fill="#111" font-family='"Liberation Serif", "Times New Roman", serif' textLength="12.15" lengthAdjust="spacingAndGlyphs" stroke="#111" stroke-width="0.2">100</text>
<line x1="455.5" y1="130" x2="455.5" y2="132" stroke="#a0a0a0" stroke-width="0.9"/>
<line x1="472.14" y1="130" x2="472.14" y2="132" stroke="#a0a0a0" stroke-width="0.9"/>
<line x1="488.79" y1="130" x2="488.79" y2="132" stroke="#a0a0a0" stroke-width="0.9"/>
<line x1="505.43" y1="130" x2="505.43" y2="132" stroke="#a0a0a0" stroke-width="0.9"/>
<line x1="522.07" y1="130" x2="522.07" y2="132" stroke="#a0a0a0" stroke-width="0.9"/>
<line x1="538.71" y1="130" x2="538.71" y2="132" stroke="#a0a0a0" stroke-width="0.9"/>
<line x1="555.36" y1="130" x2="555.36" y2="132" stroke="#a0a0a0" stroke-width="0.9"/>
<line x1="572" y1="130" x2="572" y2="132" stroke="#a0a0a0" stroke-width="0.9"/>
<rect x="459.42" y="129.18" width="4.9" height="0.82" fill="#ffffff" stroke="#000" stroke-width="0.9"/>
<rect x="464.32" y="129.18" width="4.9" height="0.82" fill="#000000" stroke="#000" stroke-width="0.9"/>
<line x1="461.87" y1="129.18" x2="461.87" y2="128.77" stroke="#000" stroke-width="1.1"/>
<line x1="460.67" y1="128.77" x2="463.07" y2="128.77" stroke="#000" stroke-width="1.1"/>
<line x1="466.77" y1="129.18" x2="466.77" y2="128.77" stroke="#000" stroke-width="1.1"/>
<line x1="465.57" y1="128.77" x2="467.97" y2="128.77" stroke="#000" stroke-width="1.1"/>
<text x="468.8" y="137.6" font-size="7" text-anchor="end" font-weight="bold" fill="#111" font-family='"Liberation Serif", "Times New Roman", serif' transform="rotate(-42 468.8 137.6)" stroke="#111" stroke-width="0.3">Hacat</text>
<rect x="476.06" y="111.29" width="4.9" height="18.71" fill="#ffffff" stroke="#000" stroke-width="0.9"/>
<rect x="480.96" y="70.52" width="4.9" height="59.48" fill="#000000" stroke="#000" stroke-width="0.9"/>
<line x1="478.51" y1="111.29" x2="478.51" y2="107.53" stroke="#000" stroke-width="1.1"/>
<line x1="477.31" y1="107.53" x2="479.71" y2="107.53" stroke="#000" stroke-width="1.1"/>
<line x1="483.41" y1="70.52" x2="483.41" y2="60.8" stroke="#000" stroke-width="1.1"/>
<line x1="482.21" y1="60.8" x2="484.61" y2="60.8" stroke="#000" stroke-width="1.1"/>
<text x="484.85" y="137.6" font-size="7" text-anchor="end" font-weight="bold" fill="#111" font-family='"Liberation Serif", "Times New Roman", serif' transform="rotate(-42 484.85 137.6)" stroke="#111" stroke-width="0.3">SCC4</text>
<rect x="492.71" y="103.28" width="4.9" height="26.72" fill="#ffffff" stroke="#000" stroke-width="0.9"/>
<rect x="497.61" y="76.32" width="4.9" height="53.68" fill="#000000" stroke="#000" stroke-width="0.9"/>
<line x1="495.16" y1="103.28" x2="495.16" y2="98.3" stroke="#000" stroke-width="1.1"/>
<line x1="493.96" y1="98.3" x2="496.36" y2="98.3" stroke="#000" stroke-width="1.1"/>
<line x1="500.06" y1="76.32" x2="500.06" y2="69.22" stroke="#000" stroke-width="1.1"/>
<line x1="498.86" y1="69.22" x2="501.26" y2="69.22" stroke="#000" stroke-width="1.1"/>
<text x="500.9" y="137.6" font-size="7" text-anchor="end" font-weight="bold" fill="#111" font-family='"Liberation Serif", "Times New Roman", serif' transform="rotate(-42 500.9 137.6)" stroke="#111" stroke-width="0.3">SCC9</text>
<rect x="509.35" y="111.29" width="4.9" height="18.71" fill="#ffffff" stroke="#000" stroke-width="0.9"/>
<rect x="514.25" y="93.32" width="4.9" height="36.68" fill="#000000" stroke="#000" stroke-width="0.9"/>
<line x1="511.8" y1="111.29" x2="511.8" y2="108.76" stroke="#000" stroke-width="1.1"/>
<line x1="510.6" y1="108.76" x2="513" y2="108.76" stroke="#000" stroke-width="1.1"/>
<line x1="516.7" y1="93.32" x2="516.7" y2="88.33" stroke="#000" stroke-width="1.1"/>
<line x1="515.5" y1="88.33" x2="517.9" y2="88.33" stroke="#000" stroke-width="1.1"/>
<text x="516.95" y="137.6" font-size="7" text-anchor="end" font-weight="bold" fill="#111" font-family='"Liberation Serif", "Times New Roman", serif' transform="rotate(-42 516.95 137.6)" stroke="#111" stroke-width="0.3">SCC15</text>
<rect x="525.99" y="107.12" width="4.9" height="22.88" fill="#ffffff" stroke="#000" stroke-width="0.9"/>
<rect x="530.89" y="83.68" width="4.9" height="46.32" fill="#000000" stroke="#000" stroke-width="0.9"/>
<line x1="528.44" y1="107.12" x2="528.44" y2="103.86" stroke="#000" stroke-width="1.1"/>
<line x1="527.24" y1="103.86" x2="529.64" y2="103.86" stroke="#000" stroke-width="1.1"/>
<line x1="533.34" y1="83.68" x2="533.34" y2="71.67" stroke="#000" stroke-width="1.1"/>
<line x1="532.14" y1="71.67" x2="534.54" y2="71.67" stroke="#000" stroke-width="1.1"/>
<text x="533" y="137.6" font-size="7" text-anchor="end" font-weight="bold" fill="#111" font-family='"Liberation Serif", "Times New Roman", serif' transform="rotate(-42 533 137.6)" stroke="#111" stroke-width="0.3">SCC25</text>
<rect x="542.64" y="119.22" width="4.9" height="10.78" fill="#ffffff" stroke="#000" stroke-width="0.9"/>
<rect x="547.54" y="103.28" width="4.9" height="26.72" fill="#000000" stroke="#000" stroke-width="0.9"/>
<line x1="545.09" y1="119.22" x2="545.09" y2="117.75" stroke="#000" stroke-width="1.1"/>
<line x1="543.89" y1="117.75" x2="546.29" y2="117.75" stroke="#000" stroke-width="1.1"/>
<line x1="549.99" y1="103.28" x2="549.99" y2="98.71" stroke="#000" stroke-width="1.1"/>
<line x1="548.79" y1="98.71" x2="551.19" y2="98.71" stroke="#000" stroke-width="1.1"/>
<text x="549.05" y="137.6" font-size="7" text-anchor="end" font-weight="bold" fill="#111" font-family='"Liberation Serif", "Times New Roman", serif' transform="rotate(-42 549.05 137.6)" stroke="#111" stroke-width="0.3">UM-SCC1</text>
<rect x="559.28" y="114.48" width="4.9" height="15.52" fill="#ffffff" stroke="#000" stroke-width="0.9"/>
<rect x="564.18" y="95.03" width="4.9" height="34.97" fill="#000000" stroke="#000" stroke-width="0.9"/>
<line x1="561.73" y1="114.48" x2="561.73" y2="110.8" stroke="#000" stroke-width="1.1"/>
<line x1="560.53" y1="110.8" x2="562.93" y2="110.8" stroke="#000" stroke-width="1.1"/>
<line x1="566.63" y1="95.03" x2="566.63" y2="87.52" stroke="#000" stroke-width="1.1"/>
<line x1="565.43" y1="87.52" x2="567.83" y2="87.52" stroke="#000" stroke-width="1.1"/>
<text x="565.1" y="137.6" font-size="7" text-anchor="end" font-weight="bold" fill="#111" font-family='"Liberation Serif", "Times New Roman", serif' transform="rotate(-42 565.1 137.6)" stroke="#111" stroke-width="0.3">UM-SCC6</text>
<polyline points="477.4,92.5 477.4,54.9 484,54.9 484,61" fill="none" stroke="#000" stroke-width="1.15" stroke-linejoin="miter"/>
<text x="481" y="55.84" font-size="10.3" text-anchor="middle" font-weight="bold" fill="#5c606c" font-family='"Liberation Serif", "Times New Roman", serif' textLength="9.48" lengthAdjust="spacingAndGlyphs">**</text>
<polyline points="493.6,94.2 493.6,57.6 500.2,57.6 500.2,62.5" fill="none" stroke="#000" stroke-width="1.15" stroke-linejoin="miter"/>
<text x="496.6" y="58.44" font-size="10.3" text-anchor="middle" font-weight="bold" fill="#5c606c" font-family='"Liberation Serif", "Times New Roman", serif'>*</text>
<polyline points="509.2,102.5 509.2,81.3 515.8,81.3 515.8,85.8" fill="none" stroke="#000" stroke-width="1.15" stroke-linejoin="miter"/>
<text x="512.5" y="82.84" font-size="10.3" text-anchor="middle" font-weight="bold" fill="#5c606c" font-family='"Liberation Serif", "Times New Roman", serif'>*</text>
<polyline points="525.8,96.7 525.8,59.7 533.3,59.7 533.3,64.7" fill="none" stroke="#000" stroke-width="1.15" stroke-linejoin="miter"/>
<text x="529.7" y="60.64" font-size="10.3" text-anchor="middle" font-weight="bold" fill="#5c606c" font-family='"Liberation Serif", "Times New Roman", serif'>*</text>
<polyline points="540.8,110 540.8,89.2 548.3,89.2 548.3,94.2" fill="none" stroke="#000" stroke-width="1.15" stroke-linejoin="miter"/>
<text x="543" y="90.14" font-size="10.3" text-anchor="middle" font-weight="bold" fill="#5c606c" font-family='"Liberation Serif", "Times New Roman", serif'>*</text>
<polyline points="556.7,98.3 556.7,78.3 564.2,78.3 564.2,83.7" fill="none" stroke="#000" stroke-width="1.15" stroke-linejoin="miter"/>
<text x="560.3" y="79.04" font-size="10.3" text-anchor="middle" font-weight="bold" fill="#5c606c" font-family='"Liberation Serif", "Times New Roman", serif'>*</text>
<text x="427.79" y="91" font-size="7.3" text-anchor="middle" font-weight="bold" fill="#111" font-family='"Liberation Serif", "Times New Roman", serif' textLength="68" lengthAdjust="spacingAndGlyphs" transform="rotate(-90 427.79 91)" stroke="#111" stroke-width="0.22">Expression of piR-1037</text>
<text x="435.39" y="91" font-size="7.3" text-anchor="middle" font-weight="bold" fill="#111" font-family='"Liberation Serif", "Times New Roman", serif' textLength="40.2" lengthAdjust="spacingAndGlyphs" transform="rotate(-90 435.39 91)" stroke="#111" stroke-width="0.22">( foldchange)</text>
<rect x="572.6" y="47.6" width="3.7" height="3.7" fill="#ffffff" stroke="#000" stroke-width="1"/>
<text x="577.7" y="51.8" font-size="6.9" text-anchor="start" font-weight="normal" fill="#3c4050" font-family='"Liberation Serif", "Times New Roman", serif'>PBS</text>
<rect x="572.6" y="61.6" width="3.7" height="3.7" fill="#000000" stroke="#000" stroke-width="1"/>
<text x="577.7" y="65.8" font-size="6.9" text-anchor="start" font-weight="normal" fill="#3c4050" font-family='"Liberation Serif", "Times New Roman", serif'>CDDP</text>
<line x1="639.7" y1="50.5" x2="639.7" y2="126.5" stroke="#a0a0a0" stroke-width="0.9"/>
<line x1="639.7" y1="126.5" x2="764.6" y2="126.5" stroke="#a0a0a0" stroke-width="0.9"/>
<line x1="637.4" y1="126.5" x2="639.7" y2="126.5" stroke="#a0a0a0" stroke-width="0.9"/>
<text x="632.9" y="129.7" font-size="8.6" text-anchor="end" font-weight="bold" fill="#2a1a28" font-family='"Liberation Serif", "Times New Roman", serif' textLength="4.05" lengthAdjust="spacingAndGlyphs" stroke="#111" stroke-width="0.2">0</text>
<line x1="637.4" y1="111.36" x2="639.7" y2="111.36" stroke="#a0a0a0" stroke-width="0.9"/>
<text x="632.9" y="114.56" font-size="8.6" text-anchor="end" font-weight="bold" fill="#2a1a28" font-family='"Liberation Serif", "Times New Roman", serif' textLength="8.1" lengthAdjust="spacingAndGlyphs" stroke="#111" stroke-width="0.2">20</text>
<line x1="637.4" y1="96.22" x2="639.7" y2="96.22" stroke="#a0a0a0" stroke-width="0.9"/>
<text x="632.9" y="99.42" font-size="8.6" text-anchor="end" font-weight="bold" fill="#2a1a28" font-family='"Liberation Serif", "Times New Roman", serif' textLength="8.1" lengthAdjust="spacingAndGlyphs" stroke="#111" stroke-width="0.2">40</text>
<line x1="637.4" y1="81.08" x2="639.7" y2="81.08" stroke="#a0a0a0" stroke-width="0.9"/>
<text x="632.9" y="84.28" font-size="8.6" text-anchor="end" font-weight="bold" fill="#2a1a28" font-family='"Liberation Serif", "Times New Roman", serif' textLength="8.1" lengthAdjust="spacingAndGlyphs" stroke="#111" stroke-width="0.2">60</text>
<line x1="637.4" y1="65.94" x2="639.7" y2="65.94" stroke="#a0a0a0" stroke-width="0.9"/>
<text x="632.9" y="69.14" font-size="8.6" text-anchor="end" font-weight="bold" fill="#2a1a28" font-family='"Liberation Serif", "Times New Roman", serif' textLength="8.1" lengthAdjust="spacingAndGlyphs" stroke="#111" stroke-width="0.2">80</text>
<line x1="637.4" y1="50.8" x2="639.7" y2="50.8" stroke="#a0a0a0" stroke-width="0.9"/>
<text x="632.9" y="54" font-size="8.6" text-anchor="end" font-weight="bold" fill="#2a1a28" font-family='"Liberation Serif", "Times New Roman", serif' textLength="12.15" lengthAdjust="spacingAndGlyphs" stroke="#111" stroke-width="0.2">100</text>
<line x1="639.7" y1="126.5" x2="639.7" y2="128.5" stroke="#a0a0a0" stroke-width="0.9"/>
<line x1="657.54" y1="126.5" x2="657.54" y2="128.5" stroke="#a0a0a0" stroke-width="0.9"/>
<line x1="675.39" y1="126.5" x2="675.39" y2="128.5" stroke="#a0a0a0" stroke-width="0.9"/>
<line x1="693.23" y1="126.5" x2="693.23" y2="128.5" stroke="#a0a0a0" stroke-width="0.9"/>
<line x1="711.07" y1="126.5" x2="711.07" y2="128.5" stroke="#a0a0a0" stroke-width="0.9"/>
<line x1="728.91" y1="126.5" x2="728.91" y2="128.5" stroke="#a0a0a0" stroke-width="0.9"/>
<line x1="746.76" y1="126.5" x2="746.76" y2="128.5" stroke="#a0a0a0" stroke-width="0.9"/>
<line x1="764.6" y1="126.5" x2="764.6" y2="128.5" stroke="#a0a0a0" stroke-width="0.9"/>
<rect x="643.72" y="125.36" width="4.9" height="1.14" fill="#ffffff" stroke="#000" stroke-width="0.9"/>
<rect x="648.62" y="125.36" width="4.9" height="1.14" fill="#a0a0a0" stroke="#000" stroke-width="0.9"/>
<text x="650.6" y="135.3" font-size="7" text-anchor="end" font-weight="bold" fill="#111" font-family='"Liberation Serif", "Times New Roman", serif' transform="rotate(-42 650.6 135.3)" stroke="#111" stroke-width="0.3">Hacat</text>
<rect x="661.56" y="107.27" width="4.9" height="19.23" fill="#ffffff" stroke="#000" stroke-width="0.9"/>
<rect x="666.46" y="83.12" width="4.9" height="43.38" fill="#a0a0a0" stroke="#000" stroke-width="0.9"/>
<line x1="664.01" y1="107.27" x2="664.01" y2="102.73" stroke="#000" stroke-width="1.1"/>
<line x1="662.81" y1="102.73" x2="665.21" y2="102.73" stroke="#000" stroke-width="1.1"/>
<line x1="668.91" y1="83.12" x2="668.91" y2="78.88" stroke="#000" stroke-width="1.1"/>
<line x1="667.71" y1="78.88" x2="670.11" y2="78.88" stroke="#000" stroke-width="1.1"/>
<text x="668.23" y="135.3" font-size="7" text-anchor="end" font-weight="bold" fill="#111" font-family='"Liberation Serif", "Times New Roman", serif' transform="rotate(-42 668.23 135.3)" stroke="#111" stroke-width="0.3">SCC4</text>
<rect x="679.41" y="101.14" width="4.9" height="25.36" fill="#ffffff" stroke="#000" stroke-width="0.9"/>
<rect x="684.31" y="71.09" width="4.9" height="55.41" fill="#a0a0a0" stroke="#000" stroke-width="0.9"/>
<line x1="681.86" y1="101.14" x2="681.86" y2="97.43" stroke="#000" stroke-width="1.1"/>
<line x1="680.66" y1="97.43" x2="683.06" y2="97.43" stroke="#000" stroke-width="1.1"/>
<line x1="686.76" y1="71.09" x2="686.76" y2="60.04" stroke="#000" stroke-width="1.1"/>
<line x1="685.56" y1="60.04" x2="687.96" y2="60.04" stroke="#000" stroke-width="1.1"/>
<text x="685.86" y="135.3" font-size="7" text-anchor="end" font-weight="bold" fill="#111" font-family='"Liberation Serif", "Times New Roman", serif' transform="rotate(-42 685.86 135.3)" stroke="#111" stroke-width="0.3">SCC9</text>
<rect x="697.25" y="110.3" width="4.9" height="16.2" fill="#ffffff" stroke="#000" stroke-width="0.9"/>
<rect x="702.15" y="78.88" width="4.9" height="47.62" fill="#a0a0a0" stroke="#000" stroke-width="0.9"/>
<line x1="699.7" y1="110.3" x2="699.7" y2="106.59" stroke="#000" stroke-width="1.1"/>
<line x1="698.5" y1="106.59" x2="700.9" y2="106.59" stroke="#000" stroke-width="1.1"/>
<line x1="704.6" y1="78.88" x2="704.6" y2="72" stroke="#000" stroke-width="1.1"/>
<line x1="703.4" y1="72" x2="705.8" y2="72" stroke="#000" stroke-width="1.1"/>
<text x="703.49" y="135.3" font-size="7" text-anchor="end" font-weight="bold" fill="#111" font-family='"Liberation Serif", "Times New Roman", serif' transform="rotate(-42 703.49 135.3)" stroke="#111" stroke-width="0.3">SCC15</text>
<rect x="715.09" y="106.21" width="4.9" height="20.29" fill="#ffffff" stroke="#000" stroke-width="0.9"/>
<rect x="719.99" y="91.22" width="4.9" height="35.28" fill="#a0a0a0" stroke="#000" stroke-width="0.9"/>
<line x1="717.54" y1="106.21" x2="717.54" y2="101.59" stroke="#000" stroke-width="1.1"/>
<line x1="716.34" y1="101.59" x2="718.74" y2="101.59" stroke="#000" stroke-width="1.1"/>
<line x1="722.44" y1="91.22" x2="722.44" y2="85.92" stroke="#000" stroke-width="1.1"/>
<line x1="721.24" y1="85.92" x2="723.64" y2="85.92" stroke="#000" stroke-width="1.1"/>
<text x="721.12" y="135.3" font-size="7" text-anchor="end" font-weight="bold" fill="#111" font-family='"Liberation Serif", "Times New Roman", serif' transform="rotate(-42 721.12 135.3)" stroke="#111" stroke-width="0.3">SCC25</text>
<rect x="732.94" y="116.13" width="4.9" height="10.37" fill="#ffffff" stroke="#000" stroke-width="0.9"/>
<rect x="737.84" y="87.21" width="4.9" height="39.29" fill="#a0a0a0" stroke="#000" stroke-width="0.9"/>
<line x1="735.39" y1="116.13" x2="735.39" y2="113.63" stroke="#000" stroke-width="1.1"/>
<line x1="734.19" y1="113.63" x2="736.59" y2="113.63" stroke="#000" stroke-width="1.1"/>
<line x1="740.29" y1="87.21" x2="740.29" y2="78.88" stroke="#000" stroke-width="1.1"/>
<line x1="739.09" y1="78.88" x2="741.49" y2="78.88" stroke="#000" stroke-width="1.1"/>
<text x="738.75" y="135.3" font-size="7" text-anchor="end" font-weight="bold" fill="#111" font-family='"Liberation Serif", "Times New Roman", serif' transform="rotate(-42 738.75 135.3)" stroke="#111" stroke-width="0.3">UM-SCC1</text>
<rect x="750.78" y="110.3" width="4.9" height="16.2" fill="#ffffff" stroke="#000" stroke-width="0.9"/>
<rect x="755.68" y="94.18" width="4.9" height="32.32" fill="#a0a0a0" stroke="#000" stroke-width="0.9"/>
<line x1="753.23" y1="110.3" x2="753.23" y2="105.68" stroke="#000" stroke-width="1.1"/>
<line x1="752.03" y1="105.68" x2="754.43" y2="105.68" stroke="#000" stroke-width="1.1"/>
<line x1="758.13" y1="94.18" x2="758.13" y2="88.88" stroke="#000" stroke-width="1.1"/>
<line x1="756.93" y1="88.88" x2="759.33" y2="88.88" stroke="#000" stroke-width="1.1"/>
<text x="756.38" y="135.3" font-size="7" text-anchor="end" font-weight="bold" fill="#111" font-family='"Liberation Serif", "Times New Roman", serif' transform="rotate(-42 756.38 135.3)" stroke="#111" stroke-width="0.3">UM-SCC6</text>
<polyline points="661.9,89.6 661.9,68.1 668.8,68.1 668.8,73.4" fill="none" stroke="#000" stroke-width="1.15" stroke-linejoin="miter"/>
<text x="665.1" y="69.44" font-size="10.3" text-anchor="middle" font-weight="bold" fill="#5c606c" font-family='"Liberation Serif", "Times New Roman", serif'>*</text>
<polyline points="679,95.8 679,53.1 686.6,53.1 686.6,58.2" fill="none" stroke="#000" stroke-width="1.15" stroke-linejoin="miter"/>
<text x="682.6" y="53.74" font-size="10.3" text-anchor="middle" font-weight="bold" fill="#5c606c" font-family='"Liberation Serif", "Times New Roman", serif'>*</text>
<polyline points="697,103.4 697,65.8 705,65.8 705,72.7" fill="none" stroke="#000" stroke-width="1.15" stroke-linejoin="miter"/>
<text x="700.6" y="66.04" font-size="10.3" text-anchor="middle" font-weight="bold" fill="#5c606c" font-family='"Liberation Serif", "Times New Roman", serif' textLength="9.48" lengthAdjust="spacingAndGlyphs">**</text>
<polyline points="714.7,97.4 714.7,76.9 722.3,76.9 722.3,82.6" fill="none" stroke="#000" stroke-width="1.15" stroke-linejoin="miter"/>
<text x="717.7" y="77.54" font-size="10.3" text-anchor="middle" font-weight="bold" fill="#5c606c" font-family='"Liberation Serif", "Times New Roman", serif'>*</text>
<polyline points="732.7,111.3 732.7,66.9 740.4,66.9 740.4,72.7" fill="none" stroke="#000" stroke-width="1.15" stroke-linejoin="miter"/>
<text x="736.2" y="67.14" font-size="10.3" text-anchor="middle" font-weight="bold" fill="#5c606c" font-family='"Liberation Serif", "Times New Roman", serif' textLength="9.48" lengthAdjust="spacingAndGlyphs">**</text>
<polyline points="750.5,103.4 750.5,77.3 758.1,77.3 758.1,83.1" fill="none" stroke="#000" stroke-width="1.15" stroke-linejoin="miter"/>
<text x="753.5" y="78.24" font-size="10.3" text-anchor="middle" font-weight="bold" fill="#5c606c" font-family='"Liberation Serif", "Times New Roman", serif'>*</text>
<text x="609.39" y="86.8" font-size="7.3" text-anchor="middle" font-weight="bold" fill="#111" font-family='"Liberation Serif", "Times New Roman", serif' textLength="67.3" lengthAdjust="spacingAndGlyphs" transform="rotate(-90 609.39 86.8)" stroke="#111" stroke-width="0.22">Expression of piR-1037</text>
<text x="617.99" y="86.8" font-size="7.3" text-anchor="middle" font-weight="bold" fill="#111" font-family='"Liberation Serif", "Times New Roman", serif' textLength="39" lengthAdjust="spacingAndGlyphs" transform="rotate(-90 617.99 86.8)" stroke="#111" stroke-width="0.22">( fold change)</text>
<rect x="766.5" y="47.5" width="3.7" height="3.7" fill="#ffffff" stroke="#000" stroke-width="1"/>
<text x="771.6" y="51.7" font-size="6.9" text-anchor="start" font-weight="normal" fill="#3c4050" font-family='"Liberation Serif", "Times New Roman", serif'>DMSO</text>
<rect x="766.5" y="55.7" width="3.7" height="3.7" fill="#a0a0a0" stroke="#000" stroke-width="1"/>
<text x="771.6" y="59.9" font-size="6.9" text-anchor="start" font-weight="normal" fill="#3c4050" font-family='"Liberation Serif", "Times New Roman", serif'>5-FU</text>
<line x1="455.2" y1="172.6" x2="455.2" y2="254.4" stroke="#a0a0a0" stroke-width="0.9"/>
<line x1="455.2" y1="254.4" x2="571.8" y2="254.4" stroke="#a0a0a0" stroke-width="0.9"/>
<line x1="452.9" y1="254.4" x2="455.2" y2="254.4" stroke="#a0a0a0" stroke-width="0.9"/>
<text x="449.4" y="257.6" font-size="8.6" text-anchor="end" font-weight="bold" fill="#111" font-family='"Liberation Serif", "Times New Roman", serif' textLength="4.05" lengthAdjust="spacingAndGlyphs" stroke="#111" stroke-width="0.2">0</text>
<line x1="452.9" y1="238.1" x2="455.2" y2="238.1" stroke="#a0a0a0" stroke-width="0.9"/>
<text x="449.4" y="241.3" font-size="8.6" text-anchor="end" font-weight="bold" fill="#111" font-family='"Liberation Serif", "Times New Roman", serif' textLength="8.1" lengthAdjust="spacingAndGlyphs" stroke="#111" stroke-width="0.2">20</text>
<line x1="452.9" y1="221.8" x2="455.2" y2="221.8" stroke="#a0a0a0" stroke-width="0.9"/>
<text x="449.4" y="225" font-size="8.6" text-anchor="end" font-weight="bold" fill="#111" font-family='"Liberation Serif", "Times New Roman", serif' textLength="8.1" lengthAdjust="spacingAndGlyphs" stroke="#111" stroke-width="0.2">40</text>
<line x1="452.9" y1="205.5" x2="455.2" y2="205.5" stroke="#a0a0a0" stroke-width="0.9"/>
<text x="449.4" y="208.7" font-size="8.6" text-anchor="end" font-weight="bold" fill="#111" font-family='"Liberation Serif", "Times New Roman", serif' textLength="8.1" lengthAdjust="spacingAndGlyphs" stroke="#111" stroke-width="0.2">60</text>
<line x1="452.9" y1="189.2" x2="455.2" y2="189.2" stroke="#a0a0a0" stroke-width="0.9"/>
<text x="449.4" y="192.4" font-size="8.6" text-anchor="end" font-weight="bold" fill="#111" font-family='"Liberation Serif", "Times New Roman", serif' textLength="8.1" lengthAdjust="spacingAndGlyphs" stroke="#111" stroke-width="0.2">80</text>
<line x1="452.9" y1="172.9" x2="455.2" y2="172.9" stroke="#a0a0a0" stroke-width="0.9"/>
<text x="449.4" y="176.1" font-size="8.6" text-anchor="end" font-weight="bold" fill="#111" font-family='"Liberation Serif", "Times New Roman", serif' textLength="12.15" lengthAdjust="spacingAndGlyphs" stroke="#111" stroke-width="0.2">100</text>
<line x1="455.2" y1="254.4" x2="455.2" y2="256.4" stroke="#a0a0a0" stroke-width="0.9"/>
<line x1="471.86" y1="254.4" x2="471.86" y2="256.4" stroke="#a0a0a0" stroke-width="0.9"/>
<line x1="488.51" y1="254.4" x2="488.51" y2="256.4" stroke="#a0a0a0" stroke-width="0.9"/>
<line x1="505.17" y1="254.4" x2="505.17" y2="256.4" stroke="#a0a0a0" stroke-width="0.9"/>
<line x1="521.83" y1="254.4" x2="521.83" y2="256.4" stroke="#a0a0a0" stroke-width="0.9"/>
<line x1="538.49" y1="254.4" x2="538.49" y2="256.4" stroke="#a0a0a0" stroke-width="0.9"/>
<line x1="555.14" y1="254.4" x2="555.14" y2="256.4" stroke="#a0a0a0" stroke-width="0.9"/>
<line x1="571.8" y1="254.4" x2="571.8" y2="256.4" stroke="#a0a0a0" stroke-width="0.9"/>
<rect x="458.73" y="253.18" width="4.8" height="1.22" fill="#ffffff" stroke="#000" stroke-width="0.9"/>
<rect x="463.53" y="253.18" width="4.8" height="1.22" fill="url(#chk2)" stroke="#000" stroke-width="0.9"/>
<text x="470" y="263.2" font-size="7" text-anchor="end" font-weight="bold" fill="#111" font-family='"Liberation Serif", "Times New Roman", serif' transform="rotate(-42 470 263.2)" stroke="#111" stroke-width="0.3">Hacat</text>
<rect x="475.39" y="233.62" width="4.8" height="20.78" fill="#ffffff" stroke="#000" stroke-width="0.9"/>
<rect x="480.19" y="208.76" width="4.8" height="45.64" fill="url(#chk2)" stroke="#000" stroke-width="0.9"/>
<line x1="477.79" y1="233.62" x2="477.79" y2="228.32" stroke="#000" stroke-width="1.1"/>
<line x1="476.59" y1="228.32" x2="478.99" y2="228.32" stroke="#000" stroke-width="1.1"/>
<line x1="482.59" y1="208.76" x2="482.59" y2="199.39" stroke="#000" stroke-width="1.1"/>
<line x1="481.39" y1="199.39" x2="483.79" y2="199.39" stroke="#000" stroke-width="1.1"/>
<text x="485.72" y="263.2" font-size="7" text-anchor="end" font-weight="bold" fill="#111" font-family='"Liberation Serif", "Times New Roman", serif' transform="rotate(-42 485.72 263.2)" stroke="#111" stroke-width="0.3">SCC4</text>
<rect x="492.04" y="226.69" width="4.8" height="27.71" fill="#ffffff" stroke="#000" stroke-width="0.9"/>
<rect x="496.84" y="205.91" width="4.8" height="48.49" fill="url(#chk2)" stroke="#000" stroke-width="0.9"/>
<line x1="494.44" y1="226.69" x2="494.44" y2="223.02" stroke="#000" stroke-width="1.1"/>
<line x1="493.24" y1="223.02" x2="495.64" y2="223.02" stroke="#000" stroke-width="1.1"/>
<line x1="499.24" y1="205.91" x2="499.24" y2="198.33" stroke="#000" stroke-width="1.1"/>
<line x1="498.04" y1="198.33" x2="500.44" y2="198.33" stroke="#000" stroke-width="1.1"/>
<text x="501.44" y="263.2" font-size="7" text-anchor="end" font-weight="bold" fill="#111" font-family='"Liberation Serif", "Times New Roman", serif' transform="rotate(-42 501.44 263.2)" stroke="#111" stroke-width="0.3">SCC9</text>
<rect x="508.7" y="236.8" width="4.8" height="17.6" fill="#ffffff" stroke="#000" stroke-width="0.9"/>
<rect x="513.5" y="223.19" width="4.8" height="31.21" fill="url(#chk2)" stroke="#000" stroke-width="0.9"/>
<line x1="511.1" y1="236.8" x2="511.1" y2="233.62" stroke="#000" stroke-width="1.1"/>
<line x1="509.9" y1="233.62" x2="512.3" y2="233.62" stroke="#000" stroke-width="1.1"/>
<line x1="515.9" y1="223.19" x2="515.9" y2="216.67" stroke="#000" stroke-width="1.1"/>
<line x1="514.7" y1="216.67" x2="517.1" y2="216.67" stroke="#000" stroke-width="1.1"/>
<text x="517.16" y="263.2" font-size="7" text-anchor="end" font-weight="bold" fill="#111" font-family='"Liberation Serif", "Times New Roman", serif' transform="rotate(-42 517.16 263.2)" stroke="#111" stroke-width="0.3">SCC15</text>
<rect x="525.36" y="232.88" width="4.8" height="21.52" fill="#ffffff" stroke="#000" stroke-width="0.9"/>
<rect x="530.16" y="221.39" width="4.8" height="33.01" fill="url(#chk2)" stroke="#000" stroke-width="0.9"/>
<line x1="527.76" y1="232.88" x2="527.76" y2="227.59" stroke="#000" stroke-width="1.1"/>
<line x1="526.56" y1="227.59" x2="528.96" y2="227.59" stroke="#000" stroke-width="1.1"/>
<line x1="532.56" y1="221.39" x2="532.56" y2="216.01" stroke="#000" stroke-width="1.1"/>
<line x1="531.36" y1="216.01" x2="533.76" y2="216.01" stroke="#000" stroke-width="1.1"/>
<text x="532.88" y="263.2" font-size="7" text-anchor="end" font-weight="bold" fill="#111" font-family='"Liberation Serif", "Times New Roman", serif' transform="rotate(-42 532.88 263.2)" stroke="#111" stroke-width="0.3">SCC25</text>
<rect x="542.01" y="243.32" width="4.8" height="11.08" fill="#ffffff" stroke="#000" stroke-width="0.9"/>
<rect x="546.81" y="232.23" width="4.8" height="22.17" fill="url(#chk2)" stroke="#000" stroke-width="0.9"/>
<line x1="544.41" y1="243.32" x2="544.41" y2="240.3" stroke="#000" stroke-width="1.1"/>
<line x1="543.21" y1="240.3" x2="545.61" y2="240.3" stroke="#000" stroke-width="1.1"/>
<line x1="549.21" y1="232.23" x2="549.21" y2="226.69" stroke="#000" stroke-width="1.1"/>
<line x1="548.01" y1="226.69" x2="550.41" y2="226.69" stroke="#000" stroke-width="1.1"/>
<text x="548.6" y="263.2" font-size="7" text-anchor="end" font-weight="bold" fill="#111" font-family='"Liberation Serif", "Times New Roman", serif' transform="rotate(-42 548.6 263.2)" stroke="#111" stroke-width="0.3">UM-SCC1</text>
<rect x="558.67" y="236.8" width="4.8" height="17.6" fill="#ffffff" stroke="#000" stroke-width="0.9"/>
<rect x="563.47" y="215.61" width="4.8" height="38.79" fill="url(#chk2)" stroke="#000" stroke-width="0.9"/>
<line x1="561.07" y1="236.8" x2="561.07" y2="232.4" stroke="#000" stroke-width="1.1"/>
<line x1="559.87" y1="232.4" x2="562.27" y2="232.4" stroke="#000" stroke-width="1.1"/>
<line x1="565.87" y1="215.61" x2="565.87" y2="207.54" stroke="#000" stroke-width="1.1"/>
<line x1="564.67" y1="207.54" x2="567.07" y2="207.54" stroke="#000" stroke-width="1.1"/>
<text x="564.32" y="263.2" font-size="7" text-anchor="end" font-weight="bold" fill="#111" font-family='"Liberation Serif", "Times New Roman", serif' transform="rotate(-42 564.32 263.2)" stroke="#111" stroke-width="0.3">UM-SCC6</text>
<polyline points="477,221.6 477,184.6 483.9,184.6 483.9,189.9" fill="none" stroke="#000" stroke-width="1.15" stroke-linejoin="miter"/>
<text x="480.4" y="186.04" font-size="10.3" text-anchor="middle" font-weight="bold" fill="#5c606c" font-family='"Liberation Serif", "Times New Roman", serif'>*</text>
<polyline points="493.1,220.4 493.1,183.5 498.9,183.5 498.9,189.2" fill="none" stroke="#000" stroke-width="1.15" stroke-linejoin="miter"/>
<text x="496.6" y="184.14" font-size="10.3" text-anchor="middle" font-weight="bold" fill="#5c606c" font-family='"Liberation Serif", "Times New Roman", serif'>*</text>
<polyline points="509.7,230.8 509.7,206.1 516.6,206.1 516.6,210.7" fill="none" stroke="#000" stroke-width="1.15" stroke-linejoin="miter"/>
<text x="512.7" y="206.74" font-size="10.3" text-anchor="middle" font-weight="bold" fill="#5c606c" font-family='"Liberation Serif", "Times New Roman", serif'>*</text>
<polyline points="525.4,227.3 525.4,202.6 532.8,202.6 532.8,207.7" fill="none" stroke="#000" stroke-width="1.15" stroke-linejoin="miter"/>
<text x="528.9" y="204.04" font-size="10.3" text-anchor="middle" font-weight="bold" fill="#5c606c" font-family='"Liberation Serif", "Times New Roman", serif'>*</text>
<polyline points="541.6,238.4 541.6,216.2 548.5,216.2 548.5,220.9" fill="none" stroke="#000" stroke-width="1.15" stroke-linejoin="miter"/>
<text x="545" y="217.84" font-size="10.3" text-anchor="middle" font-weight="bold" fill="#5c606c" font-family='"Liberation Serif", "Times New Roman", serif'>*</text>
<polyline points="557.7,222.7 557.7,201.9 564.2,201.9 564.2,207" fill="none" stroke="#000" stroke-width="1.15" stroke-linejoin="miter"/>
<text x="561.2" y="202.14" font-size="10.3" text-anchor="middle" font-weight="bold" fill="#5c606c" font-family='"Liberation Serif", "Times New Roman", serif'>*</text>
<text x="426.69" y="210.8" font-size="7.3" text-anchor="middle" font-weight="bold" fill="#111" font-family='"Liberation Serif", "Times New Roman", serif' textLength="66.7" lengthAdjust="spacingAndGlyphs" transform="rotate(-90 426.69 210.8)" stroke="#111" stroke-width="0.22">Expression of piR-1037</text>
<text x="435.89" y="210.8" font-size="7.3" text-anchor="middle" font-weight="bold" fill="#111" font-family='"Liberation Serif", "Times New Roman", serif' textLength="39.2" lengthAdjust="spacingAndGlyphs" transform="rotate(-90 435.89 210.8)" stroke="#111" stroke-width="0.22">( fold change)</text>
<rect x="572.2" y="176" width="3.7" height="3.7" fill="#ffffff" stroke="#000" stroke-width="1"/>
<text x="577.3" y="180.2" font-size="6.9" text-anchor="start" font-weight="normal" fill="#3c4050" font-family='"Liberation Serif", "Times New Roman", serif'>DMSO</text>
<rect x="572.2" y="186.5" width="3.7" height="3.7" fill="url(#chk2)" stroke="#000" stroke-width="1"/>
<text x="577.3" y="190.7" font-size="6.9" text-anchor="start" font-weight="normal" fill="#3c4050" font-family='"Liberation Serif", "Times New Roman", serif'>taxol</text>
<line x1="229.4" y1="367.2" x2="229.4" y2="453.5" stroke="#a0a0a0" stroke-width="0.9"/>
<line x1="229.4" y1="453.5" x2="387.5" y2="453.5" stroke="#a0a0a0" stroke-width="0.9"/>
<line x1="227.1" y1="453.5" x2="229.4" y2="453.5" stroke="#a0a0a0" stroke-width="0.9"/>
<text x="219.8" y="456.5" font-size="8.4" text-anchor="middle" font-weight="bold" fill="#111" font-family='"Liberation Serif", "Times New Roman", serif' stroke="#111" stroke-width="0.2">0</text>
<line x1="227.1" y1="436.3" x2="229.4" y2="436.3" stroke="#a0a0a0" stroke-width="0.9"/>
<text x="219.8" y="439.3" font-size="8.4" text-anchor="middle" font-weight="bold" fill="#111" font-family='"Liberation Serif", "Times New Roman", serif' stroke="#111" stroke-width="0.2">1</text>
<line x1="227.1" y1="419.1" x2="229.4" y2="419.1" stroke="#a0a0a0" stroke-width="0.9"/>
<text x="219.8" y="422.1" font-size="8.4" text-anchor="middle" font-weight="bold" fill="#111" font-family='"Liberation Serif", "Times New Roman", serif' stroke="#111" stroke-width="0.2">2</text>
<line x1="227.1" y1="401.9" x2="229.4" y2="401.9" stroke="#a0a0a0" stroke-width="0.9"/>
<text x="219.8" y="404.9" font-size="8.4" text-anchor="middle" font-weight="bold" fill="#111" font-family='"Liberation Serif", "Times New Roman", serif' stroke="#111" stroke-width="0.2">3</text>
<line x1="227.1" y1="384.7" x2="229.4" y2="384.7" stroke="#a0a0a0" stroke-width="0.9"/>
<text x="219.8" y="387.7" font-size="8.4" text-anchor="middle" font-weight="bold" fill="#111" font-family='"Liberation Serif", "Times New Roman", serif' stroke="#111" stroke-width="0.2">4</text>
<line x1="227.1" y1="367.5" x2="229.4" y2="367.5" stroke="#a0a0a0" stroke-width="0.9"/>
<text x="219.8" y="370.5" font-size="8.4" text-anchor="middle" font-weight="bold" fill="#111" font-family='"Liberation Serif", "Times New Roman", serif' stroke="#111" stroke-width="0.2">5</text>
<line x1="229.4" y1="453.5" x2="229.4" y2="455.5" stroke="#a0a0a0" stroke-width="0.9"/>
<line x1="255.75" y1="453.5" x2="255.75" y2="455.5" stroke="#a0a0a0" stroke-width="0.9"/>
<line x1="282.1" y1="453.5" x2="282.1" y2="455.5" stroke="#a0a0a0" stroke-width="0.9"/>
<line x1="308.45" y1="453.5" x2="308.45" y2="455.5" stroke="#a0a0a0" stroke-width="0.9"/>
<line x1="334.8" y1="453.5" x2="334.8" y2="455.5" stroke="#a0a0a0" stroke-width="0.9"/>
<line x1="361.15" y1="453.5" x2="361.15" y2="455.5" stroke="#a0a0a0" stroke-width="0.9"/>
<line x1="387.5" y1="453.5" x2="387.5" y2="455.5" stroke="#a0a0a0" stroke-width="0.9"/>
<rect x="237.38" y="434.24" width="10.4" height="19.26" fill="#ffffff" stroke="#000" stroke-width="1.1"/>
<line x1="242.57" y1="434.24" x2="242.57" y2="431.66" stroke="#000" stroke-width="1.2"/>
<line x1="241.17" y1="431.66" x2="243.97" y2="431.66" stroke="#000" stroke-width="1.2"/>
<text x="242.58" y="466" font-size="8.6" text-anchor="middle" font-weight="bold" fill="#111" font-family='"Liberation Serif", "Times New Roman", serif' stroke="#111" stroke-width="0.2">0</text>
<rect x="263.73" y="421.51" width="10.4" height="31.99" fill="#000000" stroke="#000" stroke-width="1.1"/>
<line x1="268.93" y1="421.51" x2="268.93" y2="417.55" stroke="#000" stroke-width="1.2"/>
<line x1="267.53" y1="417.55" x2="270.32" y2="417.55" stroke="#000" stroke-width="1.2"/>
<text x="268.93" y="466" font-size="8.6" text-anchor="middle" font-weight="bold" fill="#111" font-family='"Liberation Serif", "Times New Roman", serif' stroke="#111" stroke-width="0.2">2.5</text>
<rect x="290.08" y="413.77" width="10.4" height="39.73" fill="#000000" stroke="#000" stroke-width="1.1"/>
<line x1="295.28" y1="413.77" x2="295.28" y2="406.03" stroke="#000" stroke-width="1.2"/>
<line x1="293.88" y1="406.03" x2="296.68" y2="406.03" stroke="#000" stroke-width="1.2"/>
<text x="295.27" y="466" font-size="8.6" text-anchor="middle" font-weight="bold" fill="#111" font-family='"Liberation Serif", "Times New Roman", serif' stroke="#111" stroke-width="0.2">5</text>
<rect x="316.43" y="387.97" width="10.4" height="65.53" fill="#000000" stroke="#000" stroke-width="1.1"/>
<line x1="321.62" y1="387.97" x2="321.62" y2="383.67" stroke="#000" stroke-width="1.2"/>
<line x1="320.23" y1="383.67" x2="323.02" y2="383.67" stroke="#000" stroke-width="1.2"/>
<text x="321.62" y="466" font-size="8.6" text-anchor="middle" font-weight="bold" fill="#111" font-family='"Liberation Serif", "Times New Roman", serif' stroke="#111" stroke-width="0.2">10</text>
<rect x="342.78" y="384.87" width="10.4" height="68.63" fill="#000000" stroke="#000" stroke-width="1.1"/>
<line x1="347.98" y1="384.87" x2="347.98" y2="378.51" stroke="#000" stroke-width="1.2"/>
<line x1="346.58" y1="378.51" x2="349.38" y2="378.51" stroke="#000" stroke-width="1.2"/>
<text x="347.98" y="466" font-size="8.6" text-anchor="middle" font-weight="bold" fill="#111" font-family='"Liberation Serif", "Times New Roman", serif' stroke="#111" stroke-width="0.2">20</text>
<rect x="369.12" y="380.23" width="10.4" height="73.27" fill="#000000" stroke="#000" stroke-width="1.1"/>
<line x1="374.32" y1="380.23" x2="374.32" y2="374.21" stroke="#000" stroke-width="1.2"/>
<line x1="372.93" y1="374.21" x2="375.72" y2="374.21" stroke="#000" stroke-width="1.2"/>
<text x="374.32" y="466" font-size="8.6" text-anchor="middle" font-weight="bold" fill="#111" font-family='"Liberation Serif", "Times New Roman", serif' stroke="#111" stroke-width="0.2">40</text>
<text x="268.6" y="416.24" font-size="10.3" text-anchor="middle" font-weight="bold" fill="#5c606c" font-family='"Liberation Serif", "Times New Roman", serif'>*</text>
<text x="294.6" y="407.04" font-size="10.3" text-anchor="middle" font-weight="bold" fill="#5c606c" font-family='"Liberation Serif", "Times New Roman", serif'>*</text>
<text x="321.4" y="384.84" font-size="10.3" text-anchor="middle" font-weight="bold" fill="#5c606c" font-family='"Liberation Serif", "Times New Roman", serif' textLength="9.48" lengthAdjust="spacingAndGlyphs">**</text>
<text x="347.7" y="379.84" font-size="10.3" text-anchor="middle" font-weight="bold" fill="#5c606c" font-family='"Liberation Serif", "Times New Roman", serif' textLength="9.48" lengthAdjust="spacingAndGlyphs">**</text>
<text x="374" y="374.44" font-size="10.3" text-anchor="middle" font-weight="bold" fill="#5c606c" font-family='"Liberation Serif", "Times New Roman", serif' textLength="9.48" lengthAdjust="spacingAndGlyphs">**</text>
<text x="307.7" y="475.5" font-size="8.6" text-anchor="middle" font-weight="bold" fill="#111" font-family='"Liberation Serif", "Times New Roman", serif' textLength="104" lengthAdjust="spacingAndGlyphs" stroke="#111" stroke-width="0.25">Concentration of CDDP ( μM)</text>
<text x="234" y="366.3" font-size="7.2" text-anchor="start" font-weight="bold" fill="#222" font-family='"Liberation Serif", "Times New Roman", serif' textLength="17.6" lengthAdjust="spacingAndGlyphs">SCC4</text>
<text x="199.36" y="409" font-size="7.2" text-anchor="middle" font-weight="bold" fill="#111" font-family='"Liberation Serif", "Times New Roman", serif' textLength="66.3" lengthAdjust="spacingAndGlyphs" transform="rotate(-90 199.36 409)" stroke="#111" stroke-width="0.22">Expression of piR-1037</text>
<text x="208.16" y="409" font-size="7.2" text-anchor="middle" font-weight="bold" fill="#111" font-family='"Liberation Serif", "Times New Roman", serif' textLength="42.3" lengthAdjust="spacingAndGlyphs" transform="rotate(-90 208.16 409)" stroke="#111" stroke-width="0.22">( fold change)</text>
<line x1="226.7" y1="499.1" x2="226.7" y2="584.4" stroke="#a0a0a0" stroke-width="0.9"/>
<line x1="226.7" y1="584.4" x2="387.8" y2="584.4" stroke="#a0a0a0" stroke-width="0.9"/>
<line x1="224.4" y1="584.4" x2="226.7" y2="584.4" stroke="#a0a0a0" stroke-width="0.9"/>
<text x="217.5" y="587.4" font-size="8.4" text-anchor="middle" font-weight="bold" fill="#111" font-family='"Liberation Serif", "Times New Roman", serif' stroke="#111" stroke-width="0.2">0</text>
<line x1="224.4" y1="567.4" x2="226.7" y2="567.4" stroke="#a0a0a0" stroke-width="0.9"/>
<text x="217.5" y="570.4" font-size="8.4" text-anchor="middle" font-weight="bold" fill="#111" font-family='"Liberation Serif", "Times New Roman", serif' stroke="#111" stroke-width="0.2">1</text>
<line x1="224.4" y1="550.4" x2="226.7" y2="550.4" stroke="#a0a0a0" stroke-width="0.9"/>
<text x="217.5" y="553.4" font-size="8.4" text-anchor="middle" font-weight="bold" fill="#111" font-family='"Liberation Serif", "Times New Roman", serif' stroke="#111" stroke-width="0.2">2</text>
<line x1="224.4" y1="533.4" x2="226.7" y2="533.4" stroke="#a0a0a0" stroke-width="0.9"/>
<text x="217.5" y="536.4" font-size="8.4" text-anchor="middle" font-weight="bold" fill="#111" font-family='"Liberation Serif", "Times New Roman", serif' stroke="#111" stroke-width="0.2">3</text>
<line x1="224.4" y1="516.4" x2="226.7" y2="516.4" stroke="#a0a0a0" stroke-width="0.9"/>
<text x="217.5" y="519.4" font-size="8.4" text-anchor="middle" font-weight="bold" fill="#111" font-family='"Liberation Serif", "Times New Roman", serif' stroke="#111" stroke-width="0.2">4</text>
<line x1="224.4" y1="499.4" x2="226.7" y2="499.4" stroke="#a0a0a0" stroke-width="0.9"/>
<text x="217.5" y="502.4" font-size="8.4" text-anchor="middle" font-weight="bold" fill="#111" font-family='"Liberation Serif", "Times New Roman", serif' stroke="#111" stroke-width="0.2">5</text>
<line x1="226.7" y1="584.4" x2="226.7" y2="586.4" stroke="#a0a0a0" stroke-width="0.9"/>
<line x1="253.55" y1="584.4" x2="253.55" y2="586.4" stroke="#a0a0a0" stroke-width="0.9"/>
<line x1="280.4" y1="584.4" x2="280.4" y2="586.4" stroke="#a0a0a0" stroke-width="0.9"/>
<line x1="307.25" y1="584.4" x2="307.25" y2="586.4" stroke="#a0a0a0" stroke-width="0.9"/>
<line x1="334.1" y1="584.4" x2="334.1" y2="586.4" stroke="#a0a0a0" stroke-width="0.9"/>
<line x1="360.95" y1="584.4" x2="360.95" y2="586.4" stroke="#a0a0a0" stroke-width="0.9"/>
<line x1="387.8" y1="584.4" x2="387.8" y2="586.4" stroke="#a0a0a0" stroke-width="0.9"/>
<rect x="234.92" y="565.19" width="10.4" height="19.21" fill="#ffffff" stroke="#000" stroke-width="1.1"/>
<line x1="240.12" y1="565.19" x2="240.12" y2="562.81" stroke="#000" stroke-width="1.2"/>
<line x1="238.72" y1="562.81" x2="241.52" y2="562.81" stroke="#000" stroke-width="1.2"/>
<text x="240.12" y="597.4" font-size="8.6" text-anchor="middle" font-weight="bold" fill="#111" font-family='"Liberation Serif", "Times New Roman", serif' stroke="#111" stroke-width="0.2">0</text>
<rect x="261.77" y="554.99" width="10.4" height="29.41" fill="#000000" stroke="#000" stroke-width="1.1"/>
<line x1="266.97" y1="554.99" x2="266.97" y2="553.12" stroke="#000" stroke-width="1.2"/>
<line x1="265.57" y1="553.12" x2="268.37" y2="553.12" stroke="#000" stroke-width="1.2"/>
<text x="266.98" y="597.4" font-size="8.6" text-anchor="middle" font-weight="bold" fill="#111" font-family='"Liberation Serif", "Times New Roman", serif' stroke="#111" stroke-width="0.2">2.5</text>
<rect x="288.62" y="542.92" width="10.4" height="41.48" fill="#000000" stroke="#000" stroke-width="1.1"/>
<line x1="293.82" y1="542.92" x2="293.82" y2="538.33" stroke="#000" stroke-width="1.2"/>
<line x1="292.43" y1="538.33" x2="295.22" y2="538.33" stroke="#000" stroke-width="1.2"/>
<text x="293.82" y="597.4" font-size="8.6" text-anchor="middle" font-weight="bold" fill="#111" font-family='"Liberation Serif", "Times New Roman", serif' stroke="#111" stroke-width="0.2">5</text>
<rect x="315.48" y="535.27" width="10.4" height="49.13" fill="#000000" stroke="#000" stroke-width="1.1"/>
<line x1="320.68" y1="535.27" x2="320.68" y2="531.36" stroke="#000" stroke-width="1.2"/>
<line x1="319.28" y1="531.36" x2="322.07" y2="531.36" stroke="#000" stroke-width="1.2"/>
<text x="320.68" y="597.4" font-size="8.6" text-anchor="middle" font-weight="bold" fill="#111" font-family='"Liberation Serif", "Times New Roman", serif' stroke="#111" stroke-width="0.2">10</text>
<rect x="342.33" y="533.91" width="10.4" height="50.49" fill="#000000" stroke="#000" stroke-width="1.1"/>
<line x1="347.53" y1="533.91" x2="347.53" y2="530.17" stroke="#000" stroke-width="1.2"/>
<line x1="346.13" y1="530.17" x2="348.93" y2="530.17" stroke="#000" stroke-width="1.2"/>
<text x="347.52" y="597.4" font-size="8.6" text-anchor="middle" font-weight="bold" fill="#111" font-family='"Liberation Serif", "Times New Roman", serif' stroke="#111" stroke-width="0.2">20</text>
<rect x="369.18" y="519.12" width="10.4" height="65.28" fill="#000000" stroke="#000" stroke-width="1.1"/>
<line x1="374.38" y1="519.12" x2="374.38" y2="516.06" stroke="#000" stroke-width="1.2"/>
<line x1="372.98" y1="516.06" x2="375.78" y2="516.06" stroke="#000" stroke-width="1.2"/>
<text x="374.38" y="597.4" font-size="8.6" text-anchor="middle" font-weight="bold" fill="#111" font-family='"Liberation Serif", "Times New Roman", serif' stroke="#111" stroke-width="0.2">40</text>
<text x="266.8" y="551.94" font-size="10.3" text-anchor="middle" font-weight="bold" fill="#5c606c" font-family='"Liberation Serif", "Times New Roman", serif'>*</text>
<text x="293.3" y="538.24" font-size="10.3" text-anchor="middle" font-weight="bold" fill="#5c606c" font-family='"Liberation Serif", "Times New Roman", serif'>*</text>
<text x="320.1" y="530.84" font-size="10.3" text-anchor="middle" font-weight="bold" fill="#5c606c" font-family='"Liberation Serif", "Times New Roman", serif' textLength="9.48" lengthAdjust="spacingAndGlyphs">**</text>
<text x="346.4" y="529.34" font-size="10.3" text-anchor="middle" font-weight="bold" fill="#5c606c" font-family='"Liberation Serif", "Times New Roman", serif' textLength="9.48" lengthAdjust="spacingAndGlyphs">**</text>
<text x="373.7" y="516.04" font-size="10.3" text-anchor="middle" font-weight="bold" fill="#5c606c" font-family='"Liberation Serif", "Times New Roman", serif' textLength="14.21" lengthAdjust="spacingAndGlyphs">***</text>
<text x="307.1" y="606.6" font-size="8.6" text-anchor="middle" font-weight="bold" fill="#111" font-family='"Liberation Serif", "Times New Roman", serif' textLength="104" lengthAdjust="spacingAndGlyphs" stroke="#111" stroke-width="0.25">Concentration of CDDP ( μM)</text>
<text x="233.1" y="497.4" font-size="7.2" text-anchor="start" font-weight="bold" fill="#222" font-family='"Liberation Serif", "Times New Roman", serif' textLength="17.3" lengthAdjust="spacingAndGlyphs">SCC9</text>
<text x="199.06" y="544.4" font-size="7.2" text-anchor="middle" font-weight="bold" fill="#111" font-family='"Liberation Serif", "Times New Roman", serif' textLength="66.3" lengthAdjust="spacingAndGlyphs" transform="rotate(-90 199.06 544.4)" stroke="#111" stroke-width="0.22">Expression of piR-1037</text>
<text x="208.36" y="544.4" font-size="7.2" text-anchor="middle" font-weight="bold" fill="#111" font-family='"Liberation Serif", "Times New Roman", serif' textLength="42.3" lengthAdjust="spacingAndGlyphs" transform="rotate(-90 208.36 544.4)" stroke="#111" stroke-width="0.22">( fold change)</text>
<line x1="453.6" y1="374.9" x2="453.6" y2="441.2" stroke="#a0a0a0" stroke-width="0.9"/>
<line x1="453.6" y1="441.2" x2="556" y2="441.2" stroke="#a0a0a0" stroke-width="0.9"/>
<line x1="451.3" y1="441.2" x2="453.6" y2="441.2" stroke="#a0a0a0" stroke-width="0.9"/>
<text x="446.2" y="444.4" font-size="8.8" text-anchor="middle" font-weight="bold" fill="#111" font-family='"Liberation Serif", "Times New Roman", serif' stroke="#111" stroke-width="0.2">0</text>
<line x1="451.3" y1="428" x2="453.6" y2="428" stroke="#a0a0a0" stroke-width="0.9"/>
<text x="446.2" y="431.2" font-size="8.8" text-anchor="middle" font-weight="bold" fill="#111" font-family='"Liberation Serif", "Times New Roman", serif' stroke="#111" stroke-width="0.2">1</text>
<line x1="451.3" y1="414.8" x2="453.6" y2="414.8" stroke="#a0a0a0" stroke-width="0.9"/>
<text x="446.2" y="418" font-size="8.8" text-anchor="middle" font-weight="bold" fill="#111" font-family='"Liberation Serif", "Times New Roman", serif' stroke="#111" stroke-width="0.2">2</text>
<line x1="451.3" y1="401.6" x2="453.6" y2="401.6" stroke="#a0a0a0" stroke-width="0.9"/>
<text x="446.2" y="404.8" font-size="8.8" text-anchor="middle" font-weight="bold" fill="#111" font-family='"Liberation Serif", "Times New Roman", serif' stroke="#111" stroke-width="0.2">3</text>
<line x1="451.3" y1="388.4" x2="453.6" y2="388.4" stroke="#a0a0a0" stroke-width="0.9"/>
<text x="446.2" y="391.6" font-size="8.8" text-anchor="middle" font-weight="bold" fill="#111" font-family='"Liberation Serif", "Times New Roman", serif' stroke="#111" stroke-width="0.2">4</text>
<line x1="451.3" y1="375.2" x2="453.6" y2="375.2" stroke="#a0a0a0" stroke-width="0.9"/>
<text x="446.2" y="378.4" font-size="8.8" text-anchor="middle" font-weight="bold" fill="#111" font-family='"Liberation Serif", "Times New Roman", serif' stroke="#111" stroke-width="0.2">5</text>
<line x1="453.6" y1="441.2" x2="453.6" y2="443.2" stroke="#a0a0a0" stroke-width="0.9"/>
<line x1="504.8" y1="441.2" x2="504.8" y2="443.2" stroke="#a0a0a0" stroke-width="0.9"/>
<line x1="556" y1="441.2" x2="556" y2="443.2" stroke="#a0a0a0" stroke-width="0.9"/>
<rect x="466.1" y="425.36" width="13.8" height="15.84" fill="#ffffff" stroke="#1a1a1a" stroke-width="1.1"/>
<rect x="479.9" y="415.59" width="13.8" height="25.61" fill="#9b9b9b" stroke="#1a1a1a" stroke-width="1.1"/>
<line x1="473" y1="425.36" x2="473" y2="422.85" stroke="#000" stroke-width="1.2"/>
<line x1="471.6" y1="422.85" x2="474.4" y2="422.85" stroke="#000" stroke-width="1.2"/>
<line x1="486.8" y1="415.59" x2="486.8" y2="408.6" stroke="#000" stroke-width="1.2"/>
<line x1="485.4" y1="408.6" x2="488.2" y2="408.6" stroke="#000" stroke-width="1.2"/>
<rect x="517.3" y="415.59" width="13.8" height="25.61" fill="#ffffff" stroke="#1a1a1a" stroke-width="1.1"/>
<rect x="531.1" y="392.89" width="13.8" height="48.31" fill="#9b9b9b" stroke="#1a1a1a" stroke-width="1.1"/>
<line x1="524.2" y1="415.59" x2="524.2" y2="409.78" stroke="#000" stroke-width="1.2"/>
<line x1="522.8" y1="409.78" x2="525.6" y2="409.78" stroke="#000" stroke-width="1.2"/>
<line x1="538" y1="392.89" x2="538" y2="382.46" stroke="#000" stroke-width="1.2"/>
<line x1="536.6" y1="382.46" x2="539.4" y2="382.46" stroke="#000" stroke-width="1.2"/>
<polyline points="474,410.4 474,393.1 488.8,393.1 488.8,399.2" fill="none" stroke="#000" stroke-width="1.2" stroke-linejoin="miter"/>
<text x="481.4" y="393.7" font-size="10" text-anchor="middle" font-weight="bold" fill="#5c606c" font-family='"Liberation Serif", "Times New Roman", serif'>*</text>
<polyline points="521.5,399.5 521.5,371.8 536,371.8 536,378.3" fill="none" stroke="#000" stroke-width="1.2" stroke-linejoin="miter"/>
<text x="528" y="372.6" font-size="10" text-anchor="middle" font-weight="bold" fill="#5c606c" font-family='"Liberation Serif", "Times New Roman", serif'>*</text>
<text x="480.5" y="455.2" font-size="7.4" text-anchor="middle" font-weight="bold" fill="#111" font-family='"Liberation Serif", "Times New Roman", serif' textLength="8.6" lengthAdjust="spacingAndGlyphs" stroke="#111" stroke-width="0.2">7 d</text>
<text x="527.5" y="454.2" font-size="7.4" text-anchor="middle" font-weight="bold" fill="#111" font-family='"Liberation Serif", "Times New Roman", serif' textLength="11.8" lengthAdjust="spacingAndGlyphs" stroke="#111" stroke-width="0.2">20 d</text>
<text x="458.3" y="372.9" font-size="7.6" text-anchor="start" font-weight="bold" fill="#111" font-family='"Liberation Serif", "Times New Roman", serif' textLength="48.7" lengthAdjust="spacingAndGlyphs" stroke="#111" stroke-width="0.2">SCC4 Xenograft</text>
<text x="432.76" y="411" font-size="7.2" text-anchor="middle" font-weight="bold" fill="#111" font-family='"Liberation Serif", "Times New Roman", serif' textLength="66" lengthAdjust="spacingAndGlyphs" transform="rotate(-90 432.76 411)" stroke="#111" stroke-width="0.22">Expression of piR-1037</text>
<text x="441.06" y="411" font-size="7.2" text-anchor="middle" font-weight="bold" fill="#111" font-family='"Liberation Serif", "Times New Roman", serif' textLength="41" lengthAdjust="spacingAndGlyphs" transform="rotate(-90 441.06 411)" stroke="#111" stroke-width="0.22">( fold change)</text>
<line x1="453.9" y1="484" x2="453.9" y2="553.8" stroke="#a0a0a0" stroke-width="0.9"/>
<line x1="453.9" y1="553.8" x2="556" y2="553.8" stroke="#a0a0a0" stroke-width="0.9"/>
<line x1="451.6" y1="553.8" x2="453.9" y2="553.8" stroke="#a0a0a0" stroke-width="0.9"/>
<text x="446.5" y="557" font-size="8.8" text-anchor="middle" font-weight="bold" fill="#111" font-family='"Liberation Serif", "Times New Roman", serif' stroke="#111" stroke-width="0.2">0</text>
<line x1="451.6" y1="539.9" x2="453.9" y2="539.9" stroke="#a0a0a0" stroke-width="0.9"/>
<text x="446.5" y="543.1" font-size="8.8" text-anchor="middle" font-weight="bold" fill="#111" font-family='"Liberation Serif", "Times New Roman", serif' stroke="#111" stroke-width="0.2">1</text>
<line x1="451.6" y1="526" x2="453.9" y2="526" stroke="#a0a0a0" stroke-width="0.9"/>
<text x="446.5" y="529.2" font-size="8.8" text-anchor="middle" font-weight="bold" fill="#111" font-family='"Liberation Serif", "Times New Roman", serif' stroke="#111" stroke-width="0.2">2</text>
<line x1="451.6" y1="512.1" x2="453.9" y2="512.1" stroke="#a0a0a0" stroke-width="0.9"/>
<text x="446.5" y="515.3" font-size="8.8" text-anchor="middle" font-weight="bold" fill="#111" font-family='"Liberation Serif", "Times New Roman", serif' stroke="#111" stroke-width="0.2">3</text>
<line x1="451.6" y1="498.2" x2="453.9" y2="498.2" stroke="#a0a0a0" stroke-width="0.9"/>
<text x="446.5" y="501.4" font-size="8.8" text-anchor="middle" font-weight="bold" fill="#111" font-family='"Liberation Serif", "Times New Roman", serif' stroke="#111" stroke-width="0.2">4</text>
<line x1="451.6" y1="484.3" x2="453.9" y2="484.3" stroke="#a0a0a0" stroke-width="0.9"/>
<text x="446.5" y="487.5" font-size="8.8" text-anchor="middle" font-weight="bold" fill="#111" font-family='"Liberation Serif", "Times New Roman", serif' stroke="#111" stroke-width="0.2">5</text>
<line x1="453.9" y1="553.8" x2="453.9" y2="555.8" stroke="#a0a0a0" stroke-width="0.9"/>
<line x1="504.95" y1="553.8" x2="504.95" y2="555.8" stroke="#a0a0a0" stroke-width="0.9"/>
<line x1="556" y1="553.8" x2="556" y2="555.8" stroke="#a0a0a0" stroke-width="0.9"/>
<rect x="466.32" y="537.54" width="13.8" height="16.26" fill="#ffffff" stroke="#1a1a1a" stroke-width="1.1"/>
<rect x="480.12" y="528.78" width="13.8" height="25.02" fill="#9b9b9b" stroke="#1a1a1a" stroke-width="1.1"/>
<line x1="473.22" y1="537.54" x2="473.22" y2="535.73" stroke="#000" stroke-width="1.2"/>
<line x1="471.82" y1="535.73" x2="474.62" y2="535.73" stroke="#000" stroke-width="1.2"/>
<line x1="487.02" y1="528.78" x2="487.02" y2="524.61" stroke="#000" stroke-width="1.2"/>
<line x1="485.62" y1="524.61" x2="488.42" y2="524.61" stroke="#000" stroke-width="1.2"/>
<rect x="517.38" y="529.2" width="13.8" height="24.6" fill="#ffffff" stroke="#1a1a1a" stroke-width="1.1"/>
<rect x="531.17" y="511.4" width="13.8" height="42.39" fill="#9b9b9b" stroke="#1a1a1a" stroke-width="1.1"/>
<line x1="524.27" y1="529.2" x2="524.27" y2="525.72" stroke="#000" stroke-width="1.2"/>
<line x1="522.88" y1="525.72" x2="525.67" y2="525.72" stroke="#000" stroke-width="1.2"/>
<line x1="538.08" y1="511.4" x2="538.08" y2="502.79" stroke="#000" stroke-width="1.2"/>
<line x1="536.68" y1="502.79" x2="539.48" y2="502.79" stroke="#000" stroke-width="1.2"/>
<polyline points="472.4,531 472.4,512.5 487.5,512.5 487.5,517.9" fill="none" stroke="#000" stroke-width="1.2" stroke-linejoin="miter"/>
<text x="480.2" y="513.6" font-size="10" text-anchor="middle" font-weight="bold" fill="#5c606c" font-family='"Liberation Serif", "Times New Roman", serif'>*</text>
<polyline points="522,520.5 522,491.9 537.3,491.9 537.3,498" fill="none" stroke="#000" stroke-width="1.2" stroke-linejoin="miter"/>
<text x="529.3" y="492.9" font-size="10" text-anchor="middle" font-weight="bold" fill="#5c606c" font-family='"Liberation Serif", "Times New Roman", serif'>*</text>
<text x="478.4" y="566.1" font-size="7.4" text-anchor="middle" font-weight="bold" fill="#111" font-family='"Liberation Serif", "Times New Roman", serif' textLength="8.6" lengthAdjust="spacingAndGlyphs" stroke="#111" stroke-width="0.2">7 d</text>
<text x="528" y="565.9" font-size="7.4" text-anchor="middle" font-weight="bold" fill="#111" font-family='"Liberation Serif", "Times New Roman", serif' textLength="11.8" lengthAdjust="spacingAndGlyphs" stroke="#111" stroke-width="0.2">20 d</text>
<text x="460.4" y="488.6" font-size="7.6" text-anchor="start" font-weight="bold" fill="#111" font-family='"Liberation Serif", "Times New Roman", serif' textLength="48.8" lengthAdjust="spacingAndGlyphs" stroke="#111" stroke-width="0.2">SCC9 Xenograft</text>
<text x="432.16" y="522.6" font-size="7.2" text-anchor="middle" font-weight="bold" fill="#111" font-family='"Liberation Serif", "Times New Roman", serif' textLength="68" lengthAdjust="spacingAndGlyphs" transform="rotate(-90 432.16 522.6)" stroke="#111" stroke-width="0.22">Expression of piR-1037</text>
<text x="440.46" y="522.6" font-size="7.2" text-anchor="middle" font-weight="bold" fill="#111" font-family='"Liberation Serif", "Times New Roman", serif' textLength="41" lengthAdjust="spacingAndGlyphs" transform="rotate(-90 440.46 522.6)" stroke="#111" stroke-width="0.22">( fold change)</text>
<rect x="541.6" y="336.7" width="26.6" height="5.5" fill="#ffffff" stroke="#7a7a7a" stroke-width="0.9"/>
<rect x="541.6" y="350.8" width="26.6" height="5.4" fill="#a0a0a0" stroke="#444" stroke-width="0.9"/>
<text x="572.9" y="341" font-size="6.9" text-anchor="start" font-weight="normal" fill="#333" font-family='"Liberation Serif", "Times New Roman", serif' textLength="12.3" lengthAdjust="spacingAndGlyphs">PBS</text>
<text x="572.9" y="355.8" font-size="6.9" text-anchor="start" font-weight="normal" fill="#333" font-family='"Liberation Serif", "Times New Roman", serif' textLength="18.2" lengthAdjust="spacingAndGlyphs">CDDP</text>
</svg>
<svg width="823" height="720" viewBox="0 0 823 720" style="position:absolute;left:0;top:0">
<text x="7.5" y="637.8" font-size="10.2" fill="#222" font-family='"Liberation Sans", Arial, sans-serif' textLength="792.3" lengthAdjust="spacingAndGlyphs"><tspan font-weight="bold">Figure 1</tspan> CDDP-based chemotherapy upregulated the expression of piR-1037 in OSCC cells (<tspan font-weight="bold">A</tspan>) Cell viability (fold change) of HaCat, SCC4, SCC9, SCC15, SCC25, UM-</text>
<text x="7.5" y="652.6" font-size="10.2" fill="#222" font-family='"Liberation Sans", Arial, sans-serif' textLength="792.3" lengthAdjust="spacingAndGlyphs">SCC1 and UM-SCC6 cells treated with the indicated doses of CDDP, 5-FU or taxol for 48 hrs. (<tspan font-weight="bold">B</tspan>) The levels of piR-1037 (fold change) in OSCC cell lines treated with</text>
<text x="7.5" y="666.5" font-size="10.2" fill="#222" font-family='"Liberation Sans", Arial, sans-serif' textLength="792.3" lengthAdjust="spacingAndGlyphs">CDDP (10 μM), 5-FU (5 μM) or taxol (50 nM) for 48 hrs. HaCat cells served as negative control cells. PBS or DMSO served as negative vehicle control. (<tspan font-weight="bold">C</tspan>) The dose-</text>
<text x="7.5" y="681.5" font-size="10.2" fill="#222" font-family='"Liberation Sans", Arial, sans-serif' textLength="792.3" lengthAdjust="spacingAndGlyphs">dependent correlation between CDDP treatment and the expression of piR-1037 in SCC4 and SCC9 cells. (<tspan font-weight="bold">D</tspan>) The levels of piR-1037 (fold change) in SCC4 and SCC9</text>
<text x="7.5" y="696.3" font-size="10.2" fill="#222" font-family='"Liberation Sans", Arial, sans-serif' textLength="792.3" lengthAdjust="spacingAndGlyphs">tumor xenografts on days 7 and 20 post CDDP treatment (1 mg/kg/week). The data represent the mean ±SD from at least three independent replicates. Statistical analysis</text>
<text x="7.5" y="710.0" font-size="10.2" fill="#222" font-family='"Liberation Sans", Arial, sans-serif' textLength="385.8" lengthAdjust="spacingAndGlyphs">was performed using one-way ANOVA analysis: *<tspan font-style="italic">p</tspan> &lt;0.05; **<tspan font-style="italic">p</tspan> &lt; 0.01; *** <tspan font-style="italic">p</tspan>&lt;0.001.</text>
</svg>
</body></html>
